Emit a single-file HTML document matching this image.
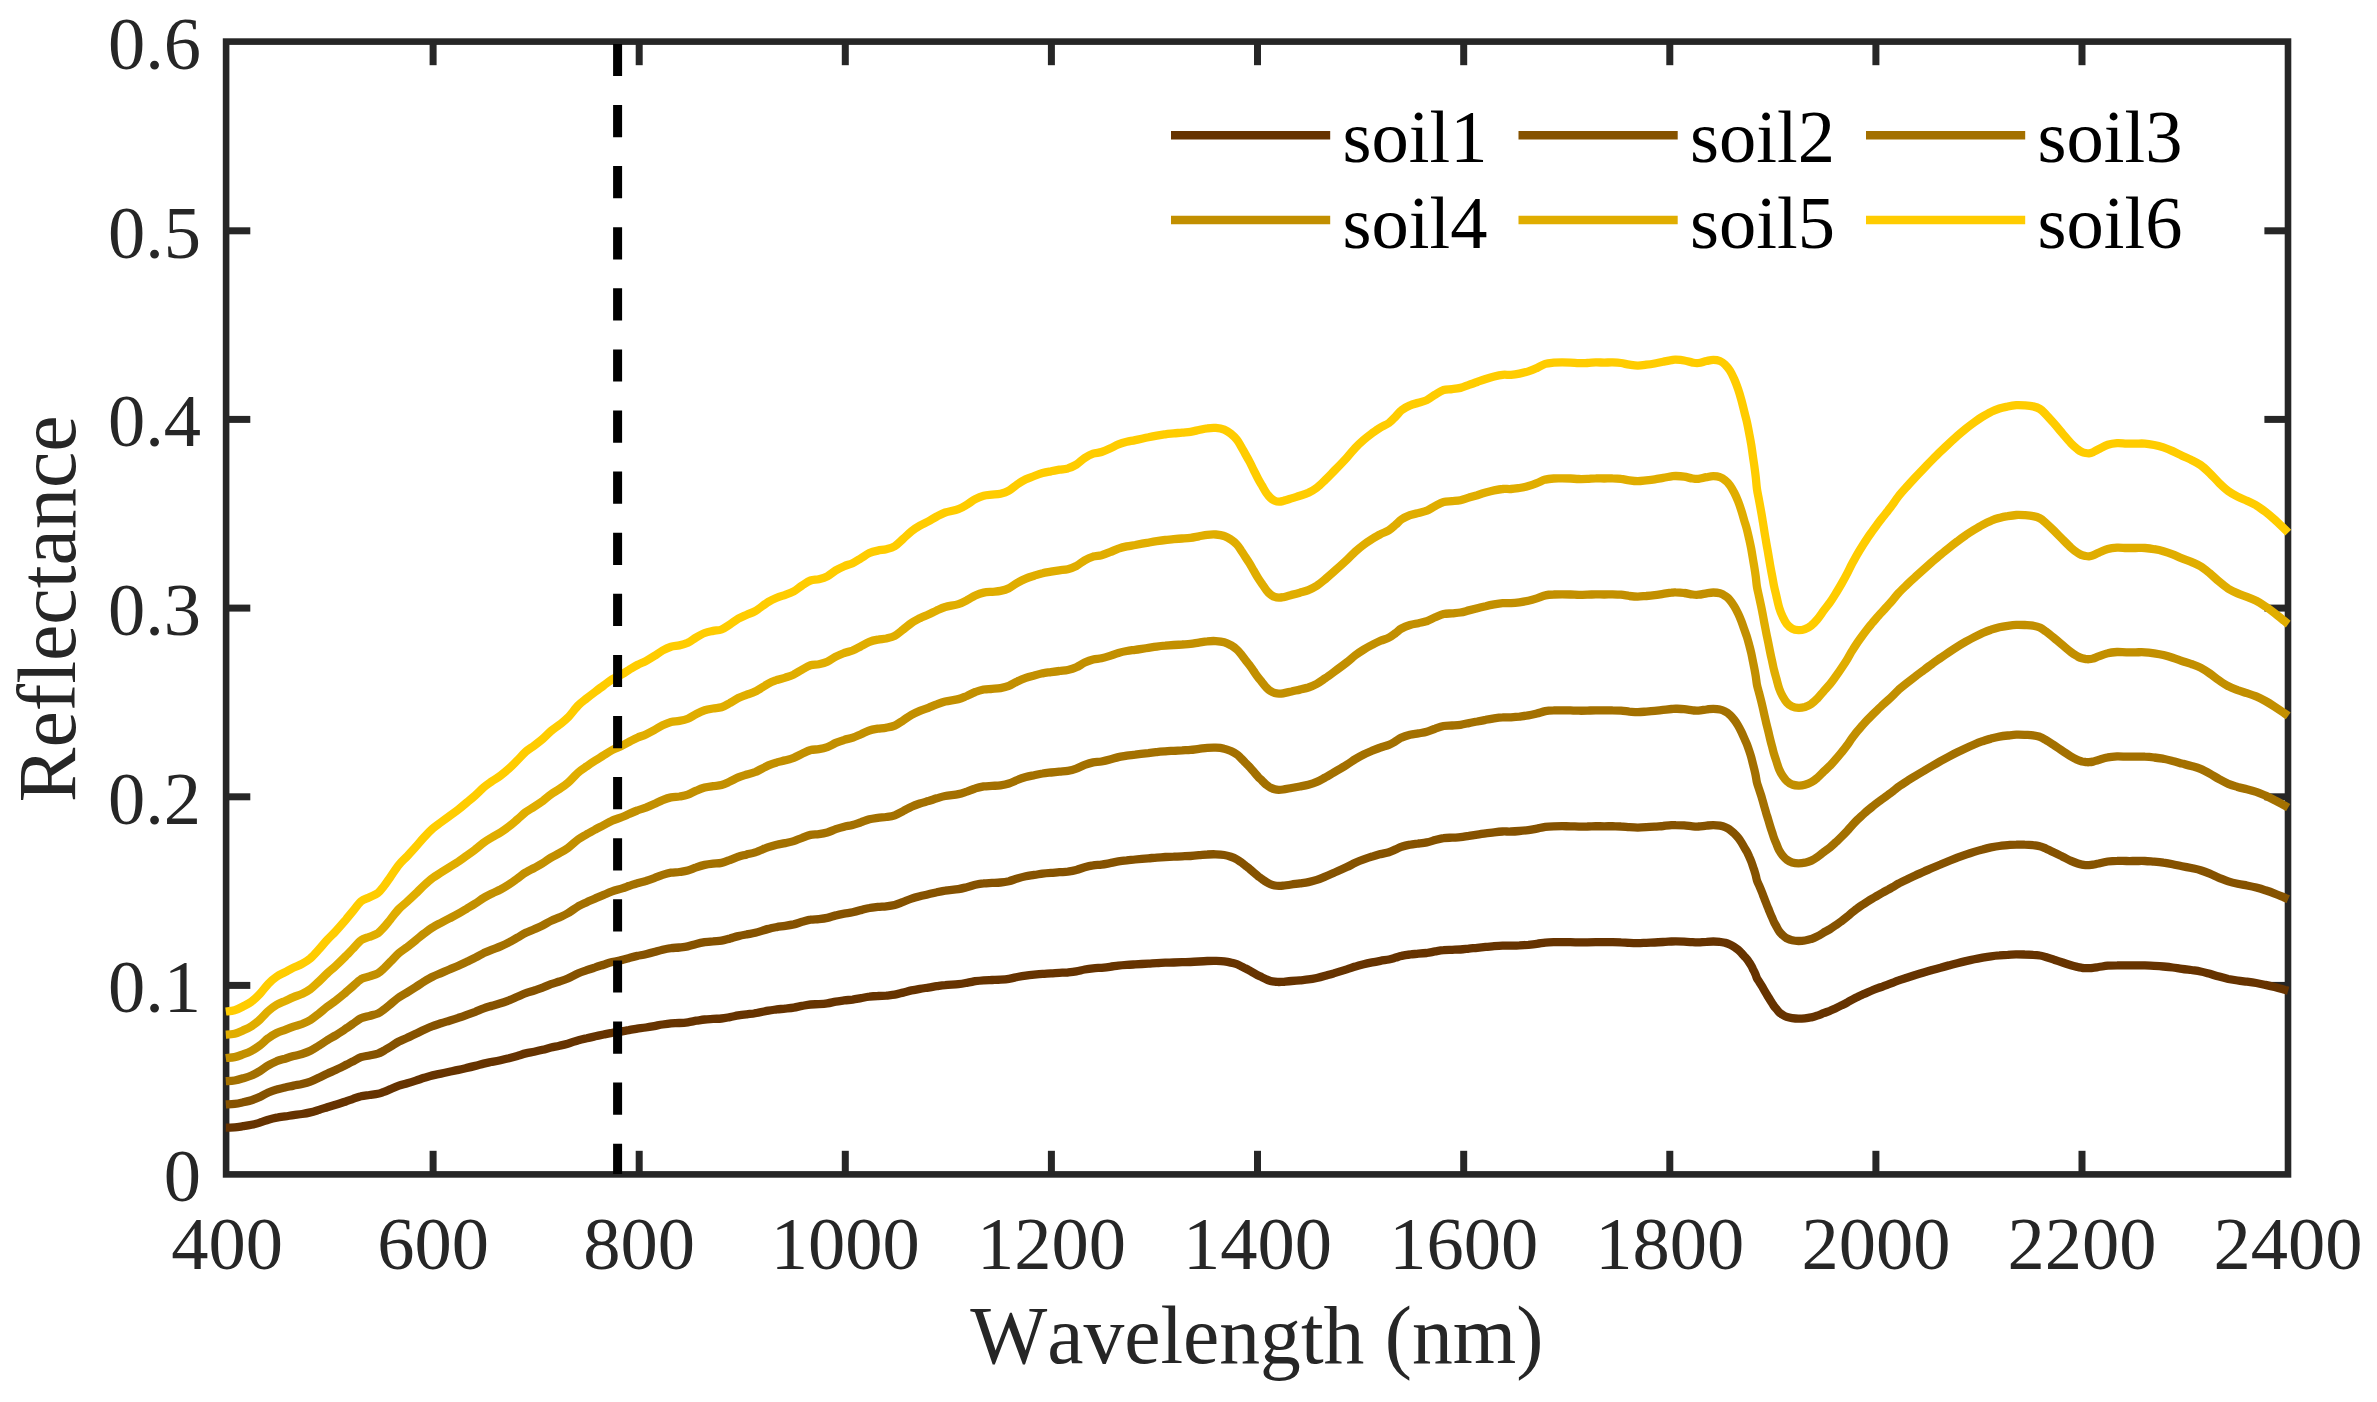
<!DOCTYPE html>
<html lang="en"><head><meta charset="utf-8"><title>Soil reflectance</title>
<style>html,body{margin:0;padding:0;background:#fff}svg{display:block}text{font-family:"Liberation Serif",serif;font-kerning:none}.tk{font-size:74.5px;fill:#262626}.lb{font-size:81.6px;fill:#262626}.lg{font-size:74.5px;fill:#000}</style></head><body>
<svg width="2377" height="1402" viewBox="0 0 2377 1402">
<rect x="0" y="0" width="2377" height="1402" fill="#fff"/>
<g stroke="#262626" stroke-width="6.6" fill="none" stroke-linecap="butt">
<rect x="226.1" y="41.6" width="2061.9" height="1132.8"/>
<g stroke-width="7">
<line x1="433.1" y1="1174.4" x2="433.1" y2="1150.8"/>
<line x1="433.1" y1="41.6" x2="433.1" y2="65.2"/>
<line x1="639.2" y1="1174.4" x2="639.2" y2="1150.8"/>
<line x1="639.2" y1="41.6" x2="639.2" y2="65.2"/>
<line x1="845.3" y1="1174.4" x2="845.3" y2="1150.8"/>
<line x1="845.3" y1="41.6" x2="845.3" y2="65.2"/>
<line x1="1051.4" y1="1174.4" x2="1051.4" y2="1150.8"/>
<line x1="1051.4" y1="41.6" x2="1051.4" y2="65.2"/>
<line x1="1257.5" y1="1174.4" x2="1257.5" y2="1150.8"/>
<line x1="1257.5" y1="41.6" x2="1257.5" y2="65.2"/>
<line x1="1463.7" y1="1174.4" x2="1463.7" y2="1150.8"/>
<line x1="1463.7" y1="41.6" x2="1463.7" y2="65.2"/>
<line x1="1669.8" y1="1174.4" x2="1669.8" y2="1150.8"/>
<line x1="1669.8" y1="41.6" x2="1669.8" y2="65.2"/>
<line x1="1875.9" y1="1174.4" x2="1875.9" y2="1150.8"/>
<line x1="1875.9" y1="41.6" x2="1875.9" y2="65.2"/>
<line x1="2082.0" y1="1174.4" x2="2082.0" y2="1150.8"/>
<line x1="2082.0" y1="41.6" x2="2082.0" y2="65.2"/>
<line x1="226.1" y1="985.4" x2="250.3" y2="985.4"/>
<line x1="2288" y1="985.4" x2="2264.4" y2="985.4"/>
<line x1="226.1" y1="796.8" x2="250.3" y2="796.8"/>
<line x1="2288" y1="796.8" x2="2264.4" y2="796.8"/>
<line x1="226.1" y1="608.1" x2="250.3" y2="608.1"/>
<line x1="2288" y1="608.1" x2="2264.4" y2="608.1"/>
<line x1="226.1" y1="419.4" x2="250.3" y2="419.4"/>
<line x1="2288" y1="419.4" x2="2264.4" y2="419.4"/>
<line x1="226.1" y1="230.8" x2="250.3" y2="230.8"/>
<line x1="2288" y1="230.8" x2="2264.4" y2="230.8"/>
</g></g>
<g fill="none" stroke-width="8.3" stroke-linejoin="round" stroke-linecap="butt">
<path stroke="#663300" d="M225.8 1127.6C227.3 1127.6 231.7 1127.5 234.6 1127.3C237.5 1127.1 240.2 1126.6 243.0 1126.2C245.8 1125.8 248.7 1125.4 251.5 1124.8C254.3 1124.2 257.1 1123.5 259.9 1122.6C262.7 1121.8 265.5 1120.6 268.3 1119.7C271.1 1118.9 273.9 1118.2 276.7 1117.7C279.5 1117.1 282.3 1116.8 285.1 1116.4C287.9 1116.0 290.7 1115.5 293.5 1115.1C296.3 1114.7 299.2 1114.5 302.0 1114.0C304.8 1113.6 307.6 1113.1 310.4 1112.4C313.2 1111.8 316.0 1110.8 318.8 1109.9C321.6 1109.1 324.4 1108.1 327.2 1107.2C330.0 1106.3 332.8 1105.6 335.6 1104.7C338.4 1103.9 342.2 1102.6 344.1 1102.0C346.0 1101.4 345.8 1101.4 347.2 1100.9C348.6 1100.4 350.3 1099.9 352.6 1099.1C354.9 1098.3 358.2 1096.8 361.0 1096.2C363.8 1095.5 366.7 1095.4 369.5 1095.0C372.3 1094.6 375.5 1094.3 377.9 1093.8C380.3 1093.3 381.7 1092.6 383.8 1091.9C385.9 1091.1 388.0 1090.2 390.5 1089.2C393.0 1088.1 396.1 1086.7 398.9 1085.7C401.7 1084.7 404.5 1084.1 407.3 1083.2C410.1 1082.4 413.0 1081.5 415.8 1080.6C418.6 1079.7 421.4 1078.7 424.2 1077.8C427.0 1077.0 429.8 1076.1 432.6 1075.4C435.4 1074.7 438.2 1074.2 441.0 1073.6C443.8 1073.0 446.5 1072.4 449.4 1071.8C452.3 1071.2 455.5 1070.6 458.4 1069.9C461.3 1069.3 464.0 1068.6 466.8 1067.9C469.6 1067.3 472.5 1066.6 475.3 1065.9C478.1 1065.2 480.9 1064.3 483.7 1063.6C486.5 1062.9 489.3 1062.4 492.1 1061.8C494.9 1061.3 497.7 1060.8 500.5 1060.2C503.3 1059.6 506.1 1059.0 508.9 1058.3C511.7 1057.5 514.5 1056.7 517.3 1055.9C520.1 1055.1 523.0 1054.1 525.8 1053.4C528.6 1052.7 531.4 1052.3 534.2 1051.7C537.0 1051.1 539.8 1050.5 542.6 1049.8C545.4 1049.1 548.2 1048.2 551.0 1047.5C553.8 1046.8 556.6 1046.4 559.4 1045.7C562.2 1045.1 564.6 1044.6 567.8 1043.7C571.0 1042.8 575.2 1041.1 578.4 1040.2C581.6 1039.2 584.0 1038.8 586.8 1038.2C589.6 1037.5 592.5 1036.9 595.3 1036.3C598.1 1035.7 600.9 1035.1 603.7 1034.5C606.5 1033.9 609.0 1033.3 612.1 1032.8C615.2 1032.2 619.4 1031.7 622.2 1031.3C625.0 1030.8 626.4 1030.5 628.9 1030.1C631.4 1029.6 634.5 1029.1 637.3 1028.6C640.1 1028.2 643.0 1028.0 645.8 1027.5C648.6 1027.1 651.4 1026.6 654.2 1026.1C657.0 1025.6 659.8 1024.9 662.6 1024.5C665.4 1024.1 668.2 1023.7 671.0 1023.4C673.8 1023.2 676.6 1023.2 679.4 1023.0C682.2 1022.9 685.0 1022.7 687.8 1022.3C690.6 1021.9 693.5 1021.2 696.3 1020.7C699.1 1020.3 701.9 1019.8 704.7 1019.5C707.5 1019.2 710.3 1019.1 713.1 1018.9C715.9 1018.7 718.7 1018.8 721.5 1018.5C724.3 1018.2 727.1 1017.6 729.9 1017.1C732.7 1016.6 735.5 1015.9 738.3 1015.4C741.1 1014.9 744.0 1014.6 746.8 1014.3C749.6 1013.9 751.6 1013.9 755.2 1013.2C758.8 1012.6 764.8 1011.3 768.4 1010.6C772.0 1010.0 774.0 1009.8 776.8 1009.4C779.6 1009.1 782.5 1008.9 785.3 1008.6C788.1 1008.3 790.9 1008.1 793.7 1007.6C796.5 1007.2 799.3 1006.4 802.1 1005.9C804.9 1005.4 807.7 1004.8 810.5 1004.5C813.3 1004.2 816.1 1004.3 818.9 1004.1C821.7 1003.9 824.5 1003.7 827.3 1003.3C830.1 1002.9 833.0 1002.1 835.8 1001.6C838.6 1001.1 841.4 1000.8 844.2 1000.4C847.0 1000.1 849.8 999.9 852.6 999.6C855.4 999.2 858.2 998.6 861.0 998.1C863.8 997.6 866.6 997.0 869.4 996.7C872.2 996.3 875.0 996.1 877.8 996.0C880.6 995.8 883.5 995.8 886.3 995.6C889.1 995.3 891.9 995.2 894.7 994.7C897.5 994.2 900.3 993.3 903.1 992.6C905.9 991.9 908.7 991.0 911.5 990.4C914.3 989.8 917.1 989.3 919.9 988.8C922.7 988.3 925.6 988.0 928.4 987.6C931.2 987.2 934.0 986.6 936.8 986.2C939.6 985.8 941.6 985.4 945.2 985.1C948.8 984.7 954.8 984.5 958.4 984.1C962.0 983.7 964.0 983.3 966.8 982.8C969.6 982.4 972.5 981.7 975.3 981.2C978.1 980.8 980.9 980.5 983.7 980.3C986.5 980.1 989.3 980.1 992.1 980.0C994.9 979.9 997.7 979.9 1000.5 979.7C1003.3 979.5 1006.1 979.3 1008.9 978.8C1011.7 978.4 1014.5 977.6 1017.3 977.0C1020.1 976.5 1023.0 976.0 1025.8 975.6C1028.6 975.2 1031.4 974.9 1034.2 974.6C1037.0 974.3 1039.8 974.0 1042.6 973.8C1045.4 973.6 1048.2 973.5 1051.0 973.3C1053.8 973.1 1056.6 973.0 1059.4 972.8C1062.2 972.7 1065.0 972.7 1067.8 972.5C1070.6 972.2 1073.5 971.9 1076.3 971.4C1079.1 970.9 1081.9 970.0 1084.7 969.5C1087.5 969.0 1090.3 968.6 1093.1 968.3C1095.9 968.0 1098.7 968.0 1101.5 967.8C1104.3 967.5 1107.1 967.2 1109.9 966.8C1112.7 966.5 1115.6 965.9 1118.4 965.6C1121.2 965.3 1124.0 965.1 1126.8 964.9C1129.6 964.7 1131.6 964.6 1135.2 964.4C1138.8 964.2 1144.8 963.8 1148.4 963.6C1152.0 963.4 1154.0 963.2 1156.8 963.1C1159.6 963.0 1162.5 962.8 1165.3 962.7C1168.1 962.6 1170.9 962.6 1173.7 962.5C1176.5 962.4 1179.3 962.3 1182.1 962.2C1184.9 962.2 1187.7 962.1 1190.5 962.0C1193.3 961.9 1196.1 961.7 1198.9 961.5C1201.7 961.3 1204.5 961.1 1207.3 961.0C1210.1 960.9 1213.0 960.8 1215.8 960.9C1218.6 961.0 1221.7 961.1 1224.2 961.4C1226.7 961.7 1228.8 962.1 1230.9 962.6C1233.0 963.0 1235.1 963.6 1236.8 964.2C1238.5 964.8 1239.6 965.5 1241.0 966.2C1242.4 966.8 1243.8 967.6 1245.2 968.3C1246.6 969.0 1248.0 969.7 1249.4 970.5C1250.8 971.2 1252.2 972.1 1253.6 972.9C1255.0 973.7 1256.4 974.5 1257.8 975.3C1259.2 976.0 1260.7 976.7 1262.1 977.4C1263.5 978.1 1264.9 978.9 1266.3 979.4C1267.7 980.0 1269.1 980.5 1270.5 980.9C1271.9 981.3 1273.3 981.5 1274.7 981.7C1276.1 981.9 1277.5 981.9 1278.9 982.0C1280.3 982.0 1281.0 981.9 1283.1 981.8C1285.2 981.6 1288.7 981.3 1291.5 981.0C1294.3 980.8 1297.1 980.6 1299.9 980.3C1302.7 980.0 1305.6 979.8 1308.4 979.4C1311.2 979.1 1314.0 978.6 1316.8 978.0C1319.6 977.4 1322.4 976.6 1325.2 975.8C1328.0 975.0 1330.0 974.4 1333.6 973.4C1337.2 972.3 1343.2 970.5 1346.8 969.4C1350.4 968.3 1352.5 967.4 1355.3 966.6C1358.1 965.7 1360.9 965.0 1363.7 964.3C1366.5 963.6 1369.3 963.0 1372.1 962.4C1374.9 961.8 1377.7 961.3 1380.5 960.8C1383.3 960.3 1386.4 960.0 1388.9 959.5C1391.4 959.0 1393.6 958.2 1395.7 957.6C1397.8 957.0 1399.1 956.4 1401.5 955.9C1403.9 955.3 1407.2 954.8 1410.0 954.5C1412.8 954.1 1415.6 954.0 1418.4 953.7C1421.2 953.5 1424.0 953.3 1426.8 953.0C1429.6 952.6 1432.4 951.9 1435.2 951.4C1438.0 950.9 1440.8 950.3 1443.6 950.1C1446.4 949.8 1449.3 949.9 1452.1 949.8C1454.9 949.7 1457.7 949.7 1460.5 949.5C1463.3 949.3 1466.1 948.9 1468.9 948.6C1471.7 948.3 1474.5 948.1 1477.3 947.8C1480.1 947.5 1482.9 947.2 1485.7 946.9C1488.5 946.7 1491.3 946.4 1494.1 946.2C1496.9 946.0 1499.8 945.8 1502.6 945.7C1505.4 945.6 1508.2 945.8 1511.0 945.7C1513.8 945.7 1516.5 945.5 1519.4 945.4C1522.3 945.2 1525.5 945.0 1528.4 944.8C1531.3 944.5 1534.0 944.2 1536.8 943.8C1539.6 943.5 1542.5 942.9 1545.3 942.6C1548.1 942.4 1550.9 942.3 1553.7 942.2C1556.5 942.2 1559.3 942.2 1562.1 942.2C1564.9 942.2 1567.7 942.2 1570.5 942.2C1573.3 942.3 1576.1 942.4 1578.9 942.4C1581.7 942.4 1584.5 942.4 1587.3 942.4C1590.1 942.3 1593.0 942.2 1595.8 942.2C1598.6 942.2 1601.4 942.2 1604.2 942.2C1607.0 942.2 1609.8 942.2 1612.6 942.2C1615.4 942.2 1618.2 942.2 1621.0 942.4C1623.8 942.5 1626.6 942.7 1629.4 942.8C1632.2 943.0 1635.0 943.1 1637.8 943.1C1640.6 943.1 1643.5 942.9 1646.3 942.8C1649.1 942.7 1651.9 942.6 1654.7 942.5C1657.5 942.4 1660.3 942.2 1663.1 942.0C1665.9 941.9 1669.4 941.6 1671.5 941.5C1673.6 941.4 1673.6 941.4 1675.7 941.4C1677.8 941.4 1681.3 941.5 1684.1 941.6C1686.9 941.8 1690.2 942.1 1692.6 942.2C1695.0 942.4 1696.2 942.4 1698.5 942.4C1700.8 942.3 1704.1 941.9 1706.6 941.8C1709.1 941.6 1711.1 941.5 1713.3 941.5C1715.5 941.5 1717.9 941.5 1719.9 941.8C1721.9 942.0 1723.8 942.5 1725.4 942.9C1727.1 943.3 1728.3 943.8 1729.8 944.5C1731.3 945.2 1732.9 946.1 1734.3 947.0C1735.7 947.9 1736.9 948.8 1738.1 949.8C1739.3 950.8 1740.4 951.9 1741.4 953.0C1742.4 954.0 1743.3 955.1 1744.2 956.2C1745.1 957.2 1746.2 958.2 1747.0 959.3C1747.8 960.4 1748.5 961.4 1749.2 962.5C1749.9 963.5 1750.6 964.6 1751.2 965.6C1751.8 966.7 1752.3 967.7 1752.8 968.8C1753.3 969.8 1753.9 970.9 1754.4 971.9C1754.9 973.0 1755.4 974.0 1755.8 975.1C1756.2 976.2 1756.4 977.2 1756.9 978.2C1757.4 979.3 1758.3 980.4 1759.0 981.5C1759.7 982.6 1760.4 983.7 1761.1 984.8C1761.8 985.8 1762.3 986.8 1762.9 987.8C1763.5 988.8 1764.0 989.9 1764.6 990.9C1765.2 991.9 1765.8 992.9 1766.4 993.9C1767.0 994.9 1767.7 996.0 1768.3 997.0C1768.9 998.0 1769.5 999.0 1770.1 1000.0C1770.7 1001.1 1771.4 1002.1 1772.1 1003.1C1772.8 1004.1 1773.3 1005.1 1774.1 1006.2C1774.8 1007.2 1775.8 1008.2 1776.6 1009.2C1777.4 1010.2 1778.2 1011.4 1779.2 1012.3C1780.2 1013.2 1781.2 1014.0 1782.5 1014.7C1783.8 1015.5 1785.1 1016.3 1786.7 1016.9C1788.3 1017.5 1790.1 1017.9 1792.1 1018.2C1794.1 1018.5 1796.4 1018.7 1798.5 1018.7C1800.6 1018.7 1802.8 1018.6 1804.9 1018.4C1807.1 1018.2 1809.4 1017.8 1811.4 1017.3C1813.5 1016.9 1815.2 1016.3 1817.2 1015.6C1819.2 1015.0 1821.4 1014.0 1823.5 1013.2C1825.6 1012.4 1827.9 1011.6 1830.0 1010.8C1832.1 1009.9 1834.2 1008.9 1836.2 1008.0C1838.2 1007.1 1840.0 1006.2 1841.9 1005.2C1843.8 1004.3 1845.8 1003.3 1847.5 1002.3C1849.2 1001.4 1850.6 1000.5 1852.3 999.6C1854.0 998.7 1855.7 997.8 1857.4 997.0C1859.1 996.1 1860.8 995.3 1862.5 994.6C1864.2 993.8 1865.9 993.0 1867.6 992.3C1869.3 991.6 1871.0 990.9 1872.7 990.2C1874.4 989.6 1876.2 988.9 1877.9 988.2C1879.6 987.6 1881.4 986.9 1883.1 986.3C1884.8 985.7 1886.6 985.0 1888.3 984.4C1890.0 983.8 1891.4 983.3 1893.1 982.6C1894.8 981.9 1896.4 981.2 1898.7 980.4C1901.0 979.5 1904.1 978.6 1906.9 977.7C1909.7 976.8 1912.5 975.9 1915.3 975.0C1918.1 974.2 1920.9 973.4 1923.7 972.5C1926.5 971.7 1929.3 970.9 1932.1 970.0C1934.9 969.2 1937.7 968.4 1940.5 967.7C1943.3 966.9 1946.1 966.1 1948.9 965.4C1951.7 964.6 1954.5 963.9 1957.3 963.2C1960.1 962.5 1963.0 961.8 1965.8 961.1C1968.6 960.5 1971.4 959.9 1974.2 959.3C1977.0 958.7 1979.8 958.2 1982.6 957.7C1985.4 957.2 1988.2 956.7 1991.0 956.3C1993.8 955.9 1996.6 955.6 1999.4 955.4C2002.2 955.1 2005.0 954.9 2007.8 954.8C2010.6 954.6 2013.5 954.5 2016.3 954.4C2019.1 954.4 2021.9 954.4 2024.7 954.5C2027.5 954.5 2030.6 954.6 2033.1 954.8C2035.6 954.9 2037.7 955.1 2039.8 955.5C2041.9 955.8 2043.3 956.3 2045.7 957.0C2048.1 957.7 2051.3 958.7 2054.1 959.7C2056.9 960.6 2059.8 961.6 2062.6 962.5C2065.4 963.5 2068.5 964.5 2071.0 965.3C2073.5 966.1 2075.9 966.6 2077.7 967.0C2079.5 967.5 2080.7 967.6 2082.0 967.8C2083.3 968.0 2084.3 968.0 2085.5 968.1C2086.7 968.1 2087.8 968.2 2089.0 968.2C2090.2 968.1 2091.4 968.0 2093.0 967.8C2094.6 967.7 2096.0 967.4 2098.5 967.0C2101.0 966.7 2104.7 966.0 2107.8 965.7C2110.9 965.4 2114.0 965.3 2117.1 965.3C2120.2 965.2 2123.3 965.4 2126.4 965.4C2129.5 965.4 2132.5 965.4 2135.6 965.4C2138.7 965.4 2141.8 965.3 2144.9 965.4C2148.0 965.5 2151.1 965.6 2154.2 965.8C2157.3 966.0 2160.3 966.2 2163.4 966.5C2166.5 966.8 2169.6 967.1 2172.7 967.5C2175.8 967.9 2178.9 968.4 2182.0 968.8C2185.1 969.3 2188.2 969.6 2191.3 970.0C2194.4 970.5 2197.4 970.9 2200.5 971.5C2203.6 972.1 2206.7 973.0 2209.8 973.8C2212.9 974.7 2216.0 975.8 2219.1 976.6C2222.2 977.5 2225.2 978.3 2228.3 979.0C2231.4 979.6 2234.5 980.1 2237.6 980.5C2240.7 981.0 2243.8 981.3 2246.9 981.7C2250.0 982.1 2253.1 982.5 2256.2 983.0C2259.3 983.5 2262.3 984.2 2265.4 984.9C2268.5 985.6 2271.6 986.3 2274.7 987.1C2277.8 987.9 2281.8 989.0 2284.0 989.6C2286.2 990.3 2287.5 990.6 2288.2 990.8"/>
<path stroke="#855200" d="M225.8 1104.4C227.3 1104.3 231.7 1104.3 234.6 1103.9C237.5 1103.5 240.2 1102.9 243.0 1102.3C245.8 1101.6 248.7 1101.1 251.5 1100.2C254.3 1099.3 257.1 1098.1 259.9 1096.9C262.7 1095.6 265.5 1093.8 268.3 1092.5C271.1 1091.3 273.9 1090.3 276.7 1089.5C279.5 1088.6 282.3 1088.2 285.1 1087.5C287.9 1086.9 290.7 1086.2 293.5 1085.6C296.3 1085.0 299.2 1084.7 302.0 1084.0C304.8 1083.3 307.6 1082.6 310.4 1081.6C313.2 1080.6 316.0 1079.2 318.8 1077.8C321.6 1076.5 324.4 1075.0 327.2 1073.7C330.0 1072.4 332.8 1071.3 335.6 1070.0C338.4 1068.7 342.2 1066.9 344.1 1065.9C346.0 1065.0 345.8 1065.1 347.2 1064.3C348.6 1063.6 350.3 1062.7 352.6 1061.6C354.9 1060.4 358.2 1058.2 361.0 1057.2C363.8 1056.2 366.7 1056.1 369.5 1055.5C372.3 1054.9 375.5 1054.4 377.9 1053.6C380.3 1052.8 381.7 1051.9 383.8 1050.8C385.9 1049.6 388.0 1048.2 390.5 1046.7C393.0 1045.2 396.1 1043.0 398.9 1041.5C401.7 1040.1 404.5 1039.1 407.3 1037.8C410.1 1036.5 413.0 1035.2 415.8 1033.8C418.6 1032.5 421.4 1031.0 424.2 1029.7C427.0 1028.4 429.8 1027.1 432.6 1026.1C435.4 1025.0 438.2 1024.2 441.0 1023.3C443.8 1022.4 446.5 1021.6 449.4 1020.7C452.3 1019.8 455.5 1018.8 458.4 1017.8C461.3 1016.9 464.0 1015.9 466.8 1014.8C469.6 1013.8 472.5 1012.8 475.3 1011.8C478.1 1010.7 480.9 1009.4 483.7 1008.4C486.5 1007.4 489.3 1006.6 492.1 1005.7C494.9 1004.9 497.7 1004.2 500.5 1003.3C503.3 1002.4 506.1 1001.4 508.9 1000.4C511.7 999.3 514.5 998.0 517.3 996.8C520.1 995.6 523.0 994.1 525.8 993.1C528.6 992.0 531.4 991.4 534.2 990.5C537.0 989.5 539.8 988.7 542.6 987.6C545.4 986.6 548.2 985.2 551.0 984.2C553.8 983.2 556.6 982.5 559.4 981.5C562.2 980.6 564.6 979.9 567.8 978.5C571.0 977.1 575.2 974.6 578.4 973.2C581.6 971.8 584.0 971.2 586.8 970.2C589.6 969.2 592.5 968.3 595.3 967.4C598.1 966.4 600.9 965.6 603.7 964.7C606.5 963.8 609.0 962.9 612.1 962.1C615.2 961.3 619.4 960.5 622.2 959.9C625.0 959.2 626.4 958.7 628.9 958.1C631.4 957.4 634.5 956.5 637.3 955.9C640.1 955.3 643.0 954.9 645.8 954.2C648.6 953.6 651.4 952.9 654.2 952.1C657.0 951.3 659.8 950.4 662.6 949.7C665.4 949.0 668.2 948.4 671.0 948.1C673.8 947.7 676.6 947.8 679.4 947.5C682.2 947.2 685.0 947.0 687.8 946.4C690.6 945.8 693.5 944.7 696.3 944.0C699.1 943.3 701.9 942.7 704.7 942.2C707.5 941.7 710.3 941.5 713.1 941.3C715.9 941.0 718.7 941.2 721.5 940.7C724.3 940.2 727.1 939.3 729.9 938.6C732.7 937.8 735.5 936.8 738.3 936.1C741.1 935.4 744.0 934.9 746.8 934.4C749.6 933.8 751.6 933.7 755.2 932.8C758.8 931.9 764.8 929.8 768.4 928.9C772.0 927.9 774.0 927.6 776.8 927.1C779.6 926.6 782.5 926.3 785.3 925.8C788.1 925.4 790.9 925.0 793.7 924.4C796.5 923.7 799.3 922.6 802.1 921.8C804.9 921.1 807.7 920.1 810.5 919.7C813.3 919.2 816.1 919.4 818.9 919.1C821.7 918.8 824.5 918.5 827.3 917.9C830.1 917.3 833.0 916.1 835.8 915.4C838.6 914.6 841.4 914.1 844.2 913.6C847.0 913.1 849.8 912.9 852.6 912.3C855.4 911.7 858.2 910.9 861.0 910.1C863.8 909.4 866.6 908.5 869.4 908.0C872.2 907.4 875.0 907.2 877.8 906.9C880.6 906.6 883.5 906.6 886.3 906.3C889.1 906.0 891.9 905.7 894.7 905.0C897.5 904.3 900.3 902.9 903.1 901.9C905.9 900.8 908.7 899.5 911.5 898.6C914.3 897.6 917.1 896.9 919.9 896.2C922.7 895.5 925.6 895.0 928.4 894.3C931.2 893.7 934.0 892.9 936.8 892.3C939.6 891.6 941.6 891.1 945.2 890.6C948.8 890.0 954.8 889.7 958.4 889.1C962.0 888.5 964.0 887.9 966.8 887.2C969.6 886.5 972.5 885.5 975.3 884.8C978.1 884.2 980.9 883.7 983.7 883.4C986.5 883.0 989.3 883.1 992.1 882.9C994.9 882.8 997.7 882.8 1000.5 882.5C1003.3 882.2 1006.1 881.8 1008.9 881.2C1011.7 880.5 1014.5 879.3 1017.3 878.5C1020.1 877.7 1023.0 876.9 1025.8 876.3C1028.6 875.7 1031.4 875.4 1034.2 874.9C1037.0 874.5 1039.8 874.0 1042.6 873.6C1045.4 873.3 1048.2 873.1 1051.0 872.9C1053.8 872.7 1056.6 872.4 1059.4 872.2C1062.2 872.0 1065.0 872.0 1067.8 871.7C1070.6 871.3 1073.5 870.8 1076.3 870.0C1079.1 869.3 1081.9 868.0 1084.7 867.2C1087.5 866.4 1090.3 865.8 1093.1 865.4C1095.9 864.9 1098.7 865.0 1101.5 864.6C1104.3 864.3 1107.1 863.7 1109.9 863.2C1112.7 862.6 1115.6 861.9 1118.4 861.4C1121.2 860.9 1124.0 860.6 1126.8 860.3C1129.6 859.9 1131.6 859.9 1135.2 859.5C1138.8 859.2 1144.8 858.6 1148.4 858.3C1152.0 858.0 1154.0 857.8 1156.8 857.6C1159.6 857.4 1162.5 857.2 1165.3 857.0C1168.1 856.9 1170.9 856.8 1173.7 856.7C1176.5 856.5 1179.3 856.4 1182.1 856.3C1184.9 856.2 1187.7 856.2 1190.5 856.0C1193.3 855.8 1196.1 855.5 1198.9 855.2C1201.7 855.0 1204.5 854.6 1207.3 854.5C1210.1 854.3 1213.0 854.2 1215.8 854.3C1218.6 854.4 1221.7 854.6 1224.2 855.0C1226.7 855.4 1228.8 856.1 1230.9 856.8C1233.0 857.5 1235.1 858.4 1236.8 859.3C1238.5 860.2 1239.6 861.2 1241.0 862.2C1242.4 863.2 1243.8 864.4 1245.2 865.4C1246.6 866.5 1248.0 867.5 1249.4 868.7C1250.8 869.8 1252.2 871.1 1253.6 872.3C1255.0 873.5 1256.4 874.7 1257.8 875.9C1259.2 877.0 1260.7 878.0 1262.1 879.1C1263.5 880.1 1264.9 881.2 1266.3 882.1C1267.7 883.0 1269.1 883.7 1270.5 884.3C1271.9 884.9 1273.3 885.2 1274.7 885.5C1276.1 885.8 1277.5 885.9 1278.9 885.9C1280.3 885.9 1281.0 885.9 1283.1 885.6C1285.2 885.4 1288.7 884.9 1291.5 884.5C1294.3 884.1 1297.1 883.8 1299.9 883.4C1302.7 883.0 1305.6 882.7 1308.4 882.1C1311.2 881.5 1314.0 880.8 1316.8 879.9C1319.6 879.0 1322.4 877.8 1325.2 876.6C1328.0 875.5 1330.0 874.6 1333.6 873.0C1337.2 871.4 1343.2 868.8 1346.8 867.1C1350.4 865.4 1352.5 864.1 1355.3 862.8C1358.1 861.5 1360.9 860.4 1363.7 859.4C1366.5 858.4 1369.3 857.4 1372.1 856.6C1374.9 855.7 1377.7 854.9 1380.5 854.1C1383.3 853.4 1386.4 853.0 1388.9 852.2C1391.4 851.4 1393.6 850.3 1395.7 849.4C1397.8 848.5 1399.1 847.5 1401.5 846.8C1403.9 846.0 1407.2 845.2 1410.0 844.7C1412.8 844.1 1415.6 843.9 1418.4 843.5C1421.2 843.2 1424.0 843.0 1426.8 842.4C1429.6 841.8 1432.4 840.8 1435.2 840.0C1438.0 839.3 1440.8 838.4 1443.6 838.1C1446.4 837.7 1449.3 837.8 1452.1 837.7C1454.9 837.5 1457.7 837.5 1460.5 837.2C1463.3 836.9 1466.1 836.3 1468.9 835.9C1471.7 835.4 1474.5 835.0 1477.3 834.6C1480.1 834.2 1482.9 833.7 1485.7 833.3C1488.5 833.0 1491.3 832.6 1494.1 832.3C1496.9 832.0 1499.8 831.7 1502.6 831.5C1505.4 831.4 1508.2 831.6 1511.0 831.5C1513.8 831.5 1516.5 831.3 1519.4 831.0C1522.3 830.8 1525.5 830.5 1528.4 830.1C1531.3 829.7 1534.0 829.2 1536.8 828.7C1539.6 828.1 1542.5 827.3 1545.3 826.9C1548.1 826.5 1550.9 826.4 1553.7 826.3C1556.5 826.2 1559.3 826.2 1562.1 826.2C1564.9 826.2 1567.7 826.3 1570.5 826.3C1573.3 826.4 1576.1 826.5 1578.9 826.6C1581.7 826.6 1584.5 826.5 1587.3 826.5C1590.1 826.4 1593.0 826.3 1595.8 826.2C1598.6 826.2 1601.4 826.3 1604.2 826.3C1607.0 826.3 1609.8 826.2 1612.6 826.2C1615.4 826.3 1618.2 826.3 1621.0 826.5C1623.8 826.6 1626.6 827.0 1629.4 827.2C1632.2 827.4 1635.0 827.6 1637.8 827.6C1640.6 827.6 1643.5 827.4 1646.3 827.2C1649.1 827.1 1651.9 826.9 1654.7 826.7C1657.5 826.5 1660.3 826.2 1663.1 826.0C1665.9 825.7 1669.4 825.4 1671.5 825.2C1673.6 825.1 1673.6 825.0 1675.7 825.1C1677.8 825.1 1681.3 825.2 1684.1 825.4C1686.9 825.6 1690.2 826.1 1692.6 826.3C1695.0 826.5 1696.2 826.6 1698.5 826.5C1700.8 826.4 1704.1 825.8 1706.6 825.6C1709.1 825.4 1711.1 825.2 1713.3 825.2C1715.5 825.2 1717.9 825.3 1719.9 825.6C1721.9 826.0 1723.8 826.6 1725.4 827.3C1727.1 828.0 1728.3 828.6 1729.8 829.7C1731.3 830.7 1732.9 832.1 1734.3 833.5C1735.7 834.8 1736.9 836.2 1738.1 837.7C1739.3 839.2 1740.4 840.8 1741.4 842.4C1742.4 844.0 1743.3 845.6 1744.2 847.2C1745.1 848.8 1746.2 850.3 1747.0 851.9C1747.8 853.5 1748.5 855.1 1749.2 856.7C1749.9 858.2 1750.6 859.8 1751.2 861.4C1751.8 862.9 1752.3 864.5 1752.8 866.1C1753.3 867.7 1753.9 869.3 1754.4 870.8C1754.9 872.4 1755.4 874.0 1755.8 875.6C1756.2 877.2 1756.4 878.7 1756.9 880.3C1757.4 881.9 1758.3 883.6 1759.0 885.2C1759.7 886.8 1760.4 888.5 1761.1 890.1C1761.8 891.7 1762.3 893.1 1762.9 894.7C1763.5 896.2 1764.0 897.7 1764.6 899.3C1765.2 900.8 1765.8 902.3 1766.4 903.8C1767.0 905.4 1767.7 906.9 1768.3 908.4C1768.9 910.0 1769.5 911.5 1770.1 913.0C1770.7 914.5 1771.4 916.1 1772.1 917.6C1772.8 919.1 1773.3 920.7 1774.1 922.2C1774.8 923.7 1775.8 925.2 1776.6 926.8C1777.4 928.3 1778.2 930.0 1779.2 931.4C1780.2 932.7 1781.2 933.9 1782.5 935.0C1783.8 936.2 1785.1 937.4 1786.7 938.3C1788.3 939.1 1790.1 939.9 1792.1 940.3C1794.1 940.8 1796.4 941.0 1798.5 941.0C1800.6 941.0 1802.8 940.9 1804.9 940.5C1807.1 940.2 1809.4 939.6 1811.4 938.9C1813.5 938.3 1815.2 937.5 1817.2 936.4C1819.2 935.4 1821.4 934.0 1823.5 932.7C1825.6 931.5 1827.9 930.4 1830.0 929.1C1832.1 927.8 1834.2 926.3 1836.2 924.9C1838.2 923.6 1840.0 922.2 1841.9 920.8C1843.8 919.4 1845.8 917.9 1847.5 916.4C1849.2 915.0 1850.6 913.7 1852.3 912.3C1854.0 911.0 1855.7 909.6 1857.4 908.4C1859.1 907.1 1860.8 905.9 1862.5 904.8C1864.2 903.6 1865.9 902.5 1867.6 901.4C1869.3 900.3 1871.0 899.3 1872.7 898.3C1874.4 897.3 1876.2 896.3 1877.9 895.3C1879.6 894.3 1881.4 893.3 1883.1 892.4C1884.8 891.4 1886.6 890.5 1888.3 889.6C1890.0 888.6 1891.4 887.9 1893.1 886.9C1894.8 885.9 1896.4 884.7 1898.7 883.5C1901.0 882.2 1904.1 880.8 1906.9 879.5C1909.7 878.1 1912.5 876.8 1915.3 875.5C1918.1 874.2 1920.9 873.0 1923.7 871.7C1926.5 870.5 1929.3 869.2 1932.1 868.0C1934.9 866.8 1937.7 865.6 1940.5 864.5C1943.3 863.3 1946.1 862.2 1948.9 861.0C1951.7 859.9 1954.5 858.8 1957.3 857.7C1960.1 856.7 1963.0 855.6 1965.8 854.6C1968.6 853.7 1971.4 852.8 1974.2 851.9C1977.0 851.0 1979.8 850.2 1982.6 849.5C1985.4 848.7 1988.2 848.0 1991.0 847.4C1993.8 846.9 1996.6 846.4 1999.4 846.0C2002.2 845.6 2005.0 845.4 2007.8 845.1C2010.6 844.9 2013.5 844.6 2016.3 844.6C2019.1 844.5 2021.9 844.6 2024.7 844.7C2027.5 844.7 2030.6 844.8 2033.1 845.1C2035.6 845.3 2037.7 845.6 2039.8 846.2C2041.9 846.7 2043.3 847.4 2045.7 848.4C2048.1 849.5 2051.3 851.1 2054.1 852.5C2056.9 853.8 2059.8 855.3 2062.6 856.7C2065.4 858.1 2068.5 859.8 2071.0 860.9C2073.5 862.0 2075.9 862.9 2077.7 863.5C2079.5 864.1 2080.7 864.4 2082.0 864.6C2083.3 864.9 2084.3 865.0 2085.5 865.1C2086.7 865.1 2087.8 865.2 2089.0 865.2C2090.2 865.1 2091.4 865.0 2093.0 864.7C2094.6 864.4 2096.0 864.0 2098.5 863.5C2101.0 862.9 2104.7 862.0 2107.8 861.5C2110.9 861.1 2114.0 860.9 2117.1 860.9C2120.2 860.8 2123.3 861.0 2126.4 861.0C2129.5 861.1 2132.5 861.0 2135.6 861.0C2138.7 861.0 2141.8 860.9 2144.9 861.0C2148.0 861.1 2151.1 861.4 2154.2 861.6C2157.3 861.9 2160.3 862.2 2163.4 862.7C2166.5 863.1 2169.6 863.6 2172.7 864.2C2175.8 864.8 2178.9 865.6 2182.0 866.2C2185.1 866.8 2188.2 867.4 2191.3 868.0C2194.4 868.7 2197.4 869.2 2200.5 870.2C2203.6 871.2 2206.7 872.4 2209.8 873.7C2212.9 875.0 2216.0 876.6 2219.1 877.9C2222.2 879.1 2225.2 880.4 2228.3 881.4C2231.4 882.4 2234.5 883.1 2237.6 883.7C2240.7 884.4 2243.8 884.9 2246.9 885.5C2250.0 886.1 2253.1 886.7 2256.2 887.5C2259.3 888.3 2262.3 889.2 2265.4 890.3C2268.5 891.3 2271.6 892.4 2274.7 893.6C2277.8 894.8 2281.8 896.5 2284.0 897.4C2286.2 898.3 2287.5 898.9 2288.2 899.2"/>
<path stroke="#A37000" d="M225.8 1081.2C227.3 1081.1 231.7 1081.0 234.6 1080.5C237.5 1080.0 240.2 1079.2 243.0 1078.3C245.8 1077.5 248.7 1076.7 251.5 1075.5C254.3 1074.3 257.1 1072.8 259.9 1071.1C262.7 1069.4 265.5 1067.0 268.3 1065.4C271.1 1063.7 273.9 1062.4 276.7 1061.2C279.5 1060.1 282.3 1059.5 285.1 1058.7C287.9 1057.8 290.7 1056.9 293.5 1056.1C296.3 1055.3 299.2 1054.9 302.0 1054.0C304.8 1053.1 307.6 1052.2 310.4 1050.8C313.2 1049.4 316.0 1047.5 318.8 1045.8C321.6 1044.0 324.4 1042.0 327.2 1040.3C330.0 1038.5 332.8 1037.1 335.6 1035.4C338.4 1033.6 342.2 1031.1 344.1 1029.9C346.0 1028.6 345.8 1028.7 347.2 1027.8C348.6 1026.8 350.3 1025.6 352.6 1024.0C354.9 1022.5 358.2 1019.6 361.0 1018.2C363.8 1016.9 366.7 1016.7 369.5 1015.9C372.3 1015.1 375.5 1014.5 377.9 1013.5C380.3 1012.4 381.7 1011.2 383.8 1009.6C385.9 1008.1 388.0 1006.3 390.5 1004.2C393.0 1002.2 396.1 999.3 398.9 997.4C401.7 995.4 404.5 994.1 407.3 992.4C410.1 990.7 413.0 988.9 415.8 987.1C418.6 985.3 421.4 983.3 424.2 981.5C427.0 979.8 429.8 978.1 432.6 976.7C435.4 975.3 438.2 974.3 441.0 973.1C443.8 971.9 446.5 970.7 449.4 969.5C452.3 968.3 455.5 967.1 458.4 965.8C461.3 964.5 464.0 963.1 466.8 961.8C469.6 960.4 472.5 959.1 475.3 957.6C478.1 956.2 480.9 954.5 483.7 953.1C486.5 951.8 489.3 950.7 492.1 949.6C494.9 948.5 497.7 947.6 500.5 946.4C503.3 945.2 506.1 943.9 508.9 942.4C511.7 941.0 514.5 939.3 517.3 937.7C520.1 936.1 523.0 934.1 525.8 932.7C528.6 931.3 531.4 930.5 534.2 929.2C537.0 928.0 539.8 926.9 542.6 925.5C545.4 924.1 548.2 922.3 551.0 920.9C553.8 919.5 556.6 918.6 559.4 917.4C562.2 916.1 564.6 915.2 567.8 913.3C571.0 911.4 575.2 908.1 578.4 906.2C581.6 904.4 584.0 903.5 586.8 902.2C589.6 900.9 592.5 899.7 595.3 898.4C598.1 897.2 600.9 896.1 603.7 894.9C606.5 893.7 609.0 892.5 612.1 891.4C615.2 890.3 619.4 889.3 622.2 888.4C625.0 887.5 626.4 886.9 628.9 886.0C631.4 885.2 634.5 884.0 637.3 883.2C640.1 882.3 643.0 881.8 645.8 881.0C648.6 880.1 651.4 879.1 654.2 878.1C657.0 877.1 659.8 875.8 662.6 874.9C665.4 874.0 668.2 873.2 671.0 872.7C673.8 872.2 676.6 872.4 679.4 872.0C682.2 871.6 685.0 871.3 687.8 870.5C690.6 869.7 693.5 868.3 696.3 867.4C699.1 866.4 701.9 865.5 704.7 864.9C707.5 864.3 710.3 864.0 713.1 863.7C715.9 863.4 718.7 863.5 721.5 862.9C724.3 862.3 727.1 861.1 729.9 860.0C732.7 859.0 735.5 857.7 738.3 856.7C741.1 855.8 744.0 855.2 746.8 854.4C749.6 853.7 751.6 853.6 755.2 852.4C758.8 851.2 764.8 848.4 768.4 847.1C772.0 845.9 774.0 845.4 776.8 844.7C779.6 844.1 782.5 843.7 785.3 843.1C788.1 842.5 790.9 842.0 793.7 841.1C796.5 840.2 799.3 838.8 802.1 837.8C804.9 836.7 807.7 835.5 810.5 834.9C813.3 834.3 816.1 834.6 818.9 834.2C821.7 833.8 824.5 833.3 827.3 832.5C830.1 831.7 833.0 830.1 835.8 829.1C838.6 828.2 841.4 827.4 844.2 826.7C847.0 826.0 849.8 825.8 852.6 825.0C855.4 824.3 858.2 823.1 861.0 822.2C863.8 821.2 866.6 820.0 869.4 819.2C872.2 818.5 875.0 818.2 877.8 817.8C880.6 817.4 883.5 817.4 886.3 817.0C889.1 816.6 891.9 816.3 894.7 815.3C897.5 814.3 900.3 812.6 903.1 811.1C905.9 809.7 908.7 808.0 911.5 806.7C914.3 805.5 917.1 804.5 919.9 803.5C922.7 802.6 925.6 801.9 928.4 801.1C931.2 800.2 934.0 799.2 936.8 798.3C939.6 797.5 941.6 796.7 945.2 796.0C948.8 795.3 954.8 794.8 958.4 794.1C962.0 793.4 964.0 792.5 966.8 791.6C969.6 790.6 972.5 789.2 975.3 788.4C978.1 787.5 980.9 786.9 983.7 786.4C986.5 786.0 989.3 786.1 992.1 785.9C994.9 785.7 997.7 785.7 1000.5 785.3C1003.3 784.9 1006.1 784.4 1008.9 783.5C1011.7 782.6 1014.5 781.1 1017.3 780.0C1020.1 778.9 1023.0 777.9 1025.8 777.1C1028.6 776.3 1031.4 775.8 1034.2 775.2C1037.0 774.6 1039.8 773.9 1042.6 773.5C1045.4 773.0 1048.2 772.8 1051.0 772.5C1053.8 772.2 1056.6 771.9 1059.4 771.6C1062.2 771.3 1065.0 771.3 1067.8 770.8C1070.6 770.4 1073.5 769.7 1076.3 768.7C1079.1 767.7 1081.9 765.9 1084.7 764.9C1087.5 763.9 1090.3 763.0 1093.1 762.4C1095.9 761.9 1098.7 762.0 1101.5 761.5C1104.3 761.0 1107.1 760.3 1109.9 759.5C1112.7 758.8 1115.6 757.8 1118.4 757.1C1121.2 756.5 1124.0 756.1 1126.8 755.6C1129.6 755.2 1131.6 755.1 1135.2 754.7C1138.8 754.2 1144.8 753.5 1148.4 753.1C1152.0 752.6 1154.0 752.4 1156.8 752.1C1159.6 751.8 1162.5 751.6 1165.3 751.4C1168.1 751.1 1170.9 751.0 1173.7 750.8C1176.5 750.7 1179.3 750.5 1182.1 750.4C1184.9 750.2 1187.7 750.2 1190.5 749.9C1193.3 749.7 1196.1 749.2 1198.9 748.9C1201.7 748.6 1204.5 748.1 1207.3 747.9C1210.1 747.7 1213.0 747.6 1215.8 747.7C1218.6 747.8 1221.7 748.1 1224.2 748.7C1226.7 749.2 1228.8 750.1 1230.9 751.0C1233.0 752.0 1235.1 753.2 1236.8 754.4C1238.5 755.6 1239.6 756.9 1241.0 758.2C1242.4 759.6 1243.8 761.1 1245.2 762.6C1246.6 764.0 1248.0 765.3 1249.4 766.8C1250.8 768.4 1252.2 770.0 1253.6 771.6C1255.0 773.2 1256.4 774.9 1257.8 776.4C1259.2 778.0 1260.7 779.3 1262.1 780.7C1263.5 782.1 1264.9 783.6 1266.3 784.8C1267.7 785.9 1269.1 786.9 1270.5 787.7C1271.9 788.5 1273.3 788.9 1274.7 789.3C1276.1 789.7 1277.5 789.8 1278.9 789.8C1280.3 789.8 1281.0 789.8 1283.1 789.5C1285.2 789.2 1288.7 788.5 1291.5 788.0C1294.3 787.5 1297.1 787.0 1299.9 786.5C1302.7 786.0 1305.6 785.6 1308.4 784.8C1311.2 784.0 1314.0 783.1 1316.8 781.9C1319.6 780.7 1322.4 779.0 1325.2 777.5C1328.0 775.9 1330.0 774.7 1333.6 772.6C1337.2 770.5 1343.2 767.0 1346.8 764.7C1350.4 762.5 1352.5 760.8 1355.3 759.1C1358.1 757.4 1360.9 755.9 1363.7 754.5C1366.5 753.1 1369.3 751.9 1372.1 750.7C1374.9 749.6 1377.7 748.4 1380.5 747.5C1383.3 746.5 1386.4 745.9 1388.9 744.9C1391.4 743.9 1393.6 742.4 1395.7 741.2C1397.8 740.0 1399.1 738.7 1401.5 737.6C1403.9 736.6 1407.2 735.6 1410.0 734.8C1412.8 734.1 1415.6 733.9 1418.4 733.4C1421.2 732.9 1424.0 732.6 1426.8 731.8C1429.6 731.0 1432.4 729.6 1435.2 728.7C1438.0 727.7 1440.8 726.6 1443.6 726.0C1446.4 725.5 1449.3 725.7 1452.1 725.5C1454.9 725.3 1457.7 725.2 1460.5 724.8C1463.3 724.4 1466.1 723.7 1468.9 723.1C1471.7 722.6 1474.5 722.0 1477.3 721.5C1480.1 720.9 1482.9 720.3 1485.7 719.8C1488.5 719.2 1491.3 718.7 1494.1 718.3C1496.9 717.9 1499.8 717.5 1502.6 717.4C1505.4 717.2 1508.2 717.5 1511.0 717.4C1513.8 717.2 1516.5 717.0 1519.4 716.7C1522.3 716.3 1525.5 715.9 1528.4 715.4C1531.3 714.9 1534.0 714.2 1536.8 713.5C1539.6 712.8 1542.5 711.7 1545.3 711.1C1548.1 710.6 1550.9 710.5 1553.7 710.4C1556.5 710.2 1559.3 710.3 1562.1 710.3C1564.9 710.3 1567.7 710.3 1570.5 710.4C1573.3 710.5 1576.1 710.7 1578.9 710.7C1581.7 710.8 1584.5 710.7 1587.3 710.6C1590.1 710.5 1593.0 710.3 1595.8 710.3C1598.6 710.2 1601.4 710.4 1604.2 710.4C1607.0 710.4 1609.8 710.2 1612.6 710.3C1615.4 710.3 1618.2 710.4 1621.0 710.6C1623.8 710.8 1626.6 711.3 1629.4 711.6C1632.2 711.8 1635.0 712.1 1637.8 712.1C1640.6 712.1 1643.5 711.8 1646.3 711.6C1649.1 711.4 1651.9 711.2 1654.7 710.9C1657.5 710.6 1660.3 710.3 1663.1 709.9C1665.9 709.6 1669.4 709.2 1671.5 709.0C1673.6 708.8 1673.6 708.7 1675.7 708.7C1677.8 708.8 1681.3 708.9 1684.1 709.2C1686.9 709.5 1690.2 710.1 1692.6 710.4C1695.0 710.6 1696.2 710.8 1698.5 710.6C1700.8 710.5 1704.1 709.8 1706.6 709.5C1709.1 709.2 1711.1 708.8 1713.3 708.8C1715.5 708.8 1717.9 709.0 1719.9 709.5C1721.9 709.9 1723.8 710.8 1725.4 711.7C1727.1 712.6 1728.3 713.5 1729.8 714.8C1731.3 716.2 1732.9 718.1 1734.3 719.9C1735.7 721.7 1736.9 723.6 1738.1 725.6C1739.3 727.6 1740.4 729.8 1741.4 731.9C1742.4 734.0 1743.3 736.1 1744.2 738.2C1745.1 740.3 1746.2 742.4 1747.0 744.5C1747.8 746.6 1748.5 748.7 1749.2 750.8C1749.9 752.9 1750.6 755.0 1751.2 757.1C1751.8 759.2 1752.3 761.4 1752.8 763.5C1753.3 765.6 1753.9 767.7 1754.4 769.8C1754.9 771.9 1755.4 774.0 1755.8 776.1C1756.2 778.2 1756.4 780.3 1756.9 782.4C1757.4 784.5 1758.3 786.7 1759.0 788.9C1759.7 791.1 1760.4 793.3 1761.1 795.4C1761.8 797.5 1762.3 799.5 1762.9 801.5C1763.5 803.6 1764.0 805.6 1764.6 807.6C1765.2 809.7 1765.8 811.7 1766.4 813.8C1767.0 815.8 1767.7 817.8 1768.3 819.9C1768.9 821.9 1769.5 823.9 1770.1 826.0C1770.7 828.0 1771.4 830.1 1772.1 832.1C1772.8 834.1 1773.3 836.2 1774.1 838.2C1774.8 840.3 1775.8 842.3 1776.6 844.3C1777.4 846.4 1778.2 848.6 1779.2 850.4C1780.2 852.3 1781.2 853.8 1782.5 855.4C1783.8 856.9 1785.1 858.5 1786.7 859.6C1788.3 860.8 1790.1 861.8 1792.1 862.4C1794.1 863.0 1796.4 863.3 1798.5 863.3C1800.6 863.3 1802.8 863.1 1804.9 862.7C1807.1 862.2 1809.4 861.5 1811.4 860.6C1813.5 859.6 1815.2 858.6 1817.2 857.2C1819.2 855.8 1821.4 853.9 1823.5 852.3C1825.6 850.6 1827.9 849.1 1830.0 847.4C1832.1 845.7 1834.2 843.7 1836.2 841.9C1838.2 840.0 1840.0 838.3 1841.9 836.4C1843.8 834.5 1845.8 832.4 1847.5 830.6C1849.2 828.7 1850.6 826.9 1852.3 825.1C1854.0 823.3 1855.7 821.5 1857.4 819.8C1859.1 818.1 1860.8 816.6 1862.5 815.0C1864.2 813.5 1865.9 811.9 1867.6 810.5C1869.3 809.1 1871.0 807.7 1872.7 806.4C1874.4 805.0 1876.2 803.6 1877.9 802.3C1879.6 801.0 1881.4 799.8 1883.1 798.5C1884.8 797.2 1886.6 796.0 1888.3 794.7C1890.0 793.5 1891.4 792.5 1893.1 791.1C1894.8 789.8 1896.4 788.3 1898.7 786.6C1901.0 785.0 1904.1 783.0 1906.9 781.2C1909.7 779.5 1912.5 777.7 1915.3 776.0C1918.1 774.3 1920.9 772.6 1923.7 771.0C1926.5 769.3 1929.3 767.6 1932.1 766.0C1934.9 764.4 1937.7 762.8 1940.5 761.2C1943.3 759.7 1946.1 758.2 1948.9 756.7C1951.7 755.2 1954.5 753.7 1957.3 752.3C1960.1 750.9 1963.0 749.5 1965.8 748.2C1968.6 746.9 1971.4 745.7 1974.2 744.5C1977.0 743.3 1979.8 742.2 1982.6 741.2C1985.4 740.3 1988.2 739.3 1991.0 738.6C1993.8 737.8 1996.6 737.1 1999.4 736.6C2002.2 736.1 2005.0 735.8 2007.8 735.5C2010.6 735.2 2013.5 734.8 2016.3 734.7C2019.1 734.6 2021.9 734.7 2024.7 734.8C2027.5 735.0 2030.6 735.1 2033.1 735.4C2035.6 735.7 2037.7 736.1 2039.8 736.8C2041.9 737.6 2043.3 738.5 2045.7 739.9C2048.1 741.3 2051.3 743.4 2054.1 745.2C2056.9 747.1 2059.8 749.1 2062.6 751.0C2065.4 752.8 2068.5 755.0 2071.0 756.5C2073.5 758.0 2075.9 759.2 2077.7 760.0C2079.5 760.8 2080.7 761.1 2082.0 761.5C2083.3 761.8 2084.3 761.9 2085.5 762.0C2086.7 762.2 2087.8 762.3 2089.0 762.2C2090.2 762.1 2091.4 762.0 2093.0 761.6C2094.6 761.2 2096.0 760.6 2098.5 759.9C2101.0 759.2 2104.7 757.9 2107.8 757.4C2110.9 756.8 2114.0 756.6 2117.1 756.4C2120.2 756.3 2123.3 756.6 2126.4 756.7C2129.5 756.7 2132.5 756.7 2135.6 756.7C2138.7 756.7 2141.8 756.5 2144.9 756.7C2148.0 756.8 2151.1 757.1 2154.2 757.5C2157.3 757.8 2160.3 758.3 2163.4 758.8C2166.5 759.4 2169.6 760.2 2172.7 761.0C2175.8 761.7 2178.9 762.7 2182.0 763.6C2185.1 764.4 2188.2 765.1 2191.3 766.0C2194.4 766.9 2197.4 767.6 2200.5 768.9C2203.6 770.2 2206.7 771.9 2209.8 773.6C2212.9 775.3 2216.0 777.4 2219.1 779.1C2222.2 780.8 2225.2 782.5 2228.3 783.8C2231.4 785.1 2234.5 786.0 2237.6 787.0C2240.7 787.9 2243.8 788.5 2246.9 789.3C2250.0 790.1 2253.1 790.9 2256.2 791.9C2259.3 793.0 2262.3 794.3 2265.4 795.6C2268.5 797.0 2271.6 798.6 2274.7 800.2C2277.8 801.7 2281.8 804.0 2284.0 805.2C2286.2 806.4 2287.5 807.1 2288.2 807.5"/>
<path stroke="#C28F00" d="M225.8 1058.0C227.3 1057.8 231.7 1057.7 234.6 1057.1C237.5 1056.5 240.2 1055.4 243.0 1054.4C245.8 1053.4 248.7 1052.4 251.5 1050.9C254.3 1049.4 257.1 1047.5 259.9 1045.4C262.7 1043.3 265.5 1040.2 268.3 1038.2C271.1 1036.1 273.9 1034.4 276.7 1033.0C279.5 1031.6 282.3 1030.9 285.1 1029.8C287.9 1028.7 290.7 1027.6 293.5 1026.6C296.3 1025.6 299.2 1025.1 302.0 1024.0C304.8 1022.8 307.6 1021.7 310.4 1020.0C313.2 1018.2 316.0 1015.9 318.8 1013.7C321.6 1011.5 324.4 1009.0 327.2 1006.8C330.0 1004.6 332.8 1002.8 335.6 1000.7C338.4 998.5 342.2 995.4 344.1 993.8C346.0 992.2 345.8 992.4 347.2 991.2C348.6 990.0 350.3 988.5 352.6 986.5C354.9 984.5 358.2 980.9 361.0 979.2C363.8 977.6 366.7 977.4 369.5 976.4C372.3 975.4 375.5 974.6 377.9 973.3C380.3 972.0 381.7 970.5 383.8 968.5C385.9 966.6 388.0 964.3 390.5 961.7C393.0 959.2 396.1 955.6 398.9 953.2C401.7 950.7 404.5 949.1 407.3 947.0C410.1 944.8 413.0 942.6 415.8 940.3C418.6 938.1 421.4 935.5 424.2 933.4C427.0 931.2 429.8 929.1 432.6 927.4C435.4 925.6 438.2 924.3 441.0 922.8C443.8 921.3 446.5 919.9 449.4 918.4C452.3 916.9 455.5 915.3 458.4 913.7C461.3 912.1 464.0 910.4 466.8 908.7C469.6 907.0 472.5 905.3 475.3 903.5C478.1 901.7 480.9 899.6 483.7 897.9C486.5 896.2 489.3 894.9 492.1 893.5C494.9 892.1 497.7 890.9 500.5 889.5C503.3 888.0 506.1 886.3 508.9 884.5C511.7 882.7 514.5 880.6 517.3 878.6C520.1 876.6 523.0 874.1 525.8 872.4C528.6 870.6 531.4 869.5 534.2 868.0C537.0 866.5 539.8 865.1 542.6 863.3C545.4 861.6 548.2 859.3 551.0 857.6C553.8 855.9 556.6 854.8 559.4 853.2C562.2 851.6 564.6 850.4 567.8 848.1C571.0 845.8 575.2 841.6 578.4 839.2C581.6 836.9 584.0 835.9 586.8 834.2C589.6 832.6 592.5 831.1 595.3 829.5C598.1 828.0 600.9 826.6 603.7 825.1C606.5 823.6 609.0 822.1 612.1 820.7C615.2 819.4 619.4 818.1 622.2 817.0C625.0 815.9 626.4 815.1 628.9 814.0C631.4 812.9 634.5 811.5 637.3 810.5C640.1 809.4 643.0 808.7 645.8 807.7C648.6 806.6 651.4 805.4 654.2 804.1C657.0 802.8 659.8 801.2 662.6 800.1C665.4 799.0 668.2 798.0 671.0 797.4C673.8 796.8 676.6 796.9 679.4 796.5C682.2 796.0 685.0 795.6 687.8 794.6C690.6 793.6 693.5 791.8 696.3 790.7C699.1 789.5 701.9 788.4 704.7 787.6C707.5 786.8 710.3 786.5 713.1 786.1C715.9 785.7 718.7 785.9 721.5 785.1C724.3 784.3 727.1 782.8 729.9 781.5C732.7 780.2 735.5 778.6 738.3 777.4C741.1 776.2 744.0 775.4 746.8 774.5C749.6 773.6 751.6 773.5 755.2 772.0C758.8 770.4 764.8 767.0 768.4 765.4C772.0 763.8 774.0 763.2 776.8 762.4C779.6 761.5 782.5 761.1 785.3 760.3C788.1 759.6 790.9 759.0 793.7 757.9C796.5 756.8 799.3 755.0 802.1 753.7C804.9 752.4 807.7 750.8 810.5 750.1C813.3 749.3 816.1 749.7 818.9 749.2C821.7 748.7 824.5 748.1 827.3 747.1C830.1 746.1 833.0 744.1 835.8 742.9C838.6 741.7 841.4 740.7 844.2 739.9C847.0 739.0 849.8 738.7 852.6 737.7C855.4 736.8 858.2 735.4 861.0 734.2C863.8 733.0 866.6 731.4 869.4 730.5C872.2 729.6 875.0 729.2 877.8 728.7C880.6 728.3 883.5 728.3 886.3 727.7C889.1 727.2 891.9 726.8 894.7 725.6C897.5 724.4 900.3 722.2 903.1 720.4C905.9 718.6 908.7 716.5 911.5 714.9C914.3 713.3 917.1 712.1 919.9 710.9C922.7 709.7 925.6 708.9 928.4 707.8C931.2 706.7 934.0 705.4 936.8 704.4C939.6 703.3 941.6 702.4 945.2 701.5C948.8 700.6 954.8 700.0 958.4 699.1C962.0 698.2 964.0 697.1 966.8 696.0C969.6 694.8 972.5 693.0 975.3 692.0C978.1 690.9 980.9 690.1 983.7 689.5C986.5 689.0 989.3 689.1 992.1 688.8C994.9 688.6 997.7 688.6 1000.5 688.1C1003.3 687.6 1006.1 687.0 1008.9 685.9C1011.7 684.8 1014.5 682.8 1017.3 681.5C1020.1 680.1 1023.0 678.8 1025.8 677.8C1028.6 676.8 1031.4 676.2 1034.2 675.5C1037.0 674.7 1039.8 673.9 1042.6 673.3C1045.4 672.8 1048.2 672.5 1051.0 672.1C1053.8 671.7 1056.6 671.3 1059.4 671.0C1062.2 670.6 1065.0 670.6 1067.8 670.0C1070.6 669.4 1073.5 668.6 1076.3 667.3C1079.1 666.1 1081.9 663.9 1084.7 662.6C1087.5 661.3 1090.3 660.2 1093.1 659.5C1095.9 658.8 1098.7 658.9 1101.5 658.3C1104.3 657.7 1107.1 656.8 1109.9 655.9C1112.7 655.0 1115.6 653.7 1118.4 652.9C1121.2 652.1 1124.0 651.5 1126.8 651.0C1129.6 650.5 1131.6 650.3 1135.2 649.8C1138.8 649.3 1144.8 648.3 1148.4 647.8C1152.0 647.3 1154.0 647.0 1156.8 646.6C1159.6 646.2 1162.5 645.9 1165.3 645.7C1168.1 645.4 1170.9 645.2 1173.7 645.0C1176.5 644.8 1179.3 644.6 1182.1 644.5C1184.9 644.3 1187.7 644.2 1190.5 643.9C1193.3 643.6 1196.1 643.0 1198.9 642.6C1201.7 642.2 1204.5 641.6 1207.3 641.4C1210.1 641.1 1213.0 640.9 1215.8 641.1C1218.6 641.3 1221.7 641.6 1224.2 642.3C1226.7 643.0 1228.8 644.1 1230.9 645.2C1233.0 646.4 1235.1 648.0 1236.8 649.5C1238.5 651.0 1239.6 652.5 1241.0 654.2C1242.4 655.9 1243.8 657.9 1245.2 659.7C1246.6 661.5 1248.0 663.1 1249.4 665.0C1250.8 666.9 1252.2 669.0 1253.6 671.0C1255.0 673.0 1256.4 675.1 1257.8 677.0C1259.2 678.9 1260.7 680.6 1262.1 682.4C1263.5 684.1 1264.9 686.0 1266.3 687.5C1267.7 688.9 1269.1 690.2 1270.5 691.1C1271.9 692.0 1273.3 692.7 1274.7 693.1C1276.1 693.5 1277.5 693.7 1278.9 693.7C1280.3 693.8 1281.0 693.7 1283.1 693.3C1285.2 692.9 1288.7 692.1 1291.5 691.5C1294.3 690.8 1297.1 690.3 1299.9 689.6C1302.7 688.9 1305.6 688.4 1308.4 687.5C1311.2 686.5 1314.0 685.3 1316.8 683.8C1319.6 682.3 1322.4 680.2 1325.2 678.3C1328.0 676.4 1330.0 674.9 1333.6 672.2C1337.2 669.6 1343.2 665.2 1346.8 662.4C1350.4 659.6 1352.5 657.4 1355.3 655.3C1358.1 653.2 1360.9 651.3 1363.7 649.6C1366.5 647.9 1369.3 646.3 1372.1 644.9C1374.9 643.4 1377.7 642.0 1380.5 640.8C1383.3 639.6 1386.4 638.9 1388.9 637.6C1391.4 636.3 1393.6 634.5 1395.7 633.0C1397.8 631.4 1399.1 629.8 1401.5 628.5C1403.9 627.2 1407.2 625.9 1410.0 625.0C1412.8 624.1 1415.6 623.8 1418.4 623.2C1421.2 622.5 1424.0 622.2 1426.8 621.2C1429.6 620.3 1432.4 618.5 1435.2 617.3C1438.0 616.1 1440.8 614.7 1443.6 614.0C1446.4 613.4 1449.3 613.6 1452.1 613.4C1454.9 613.1 1457.7 613.0 1460.5 612.5C1463.3 612.0 1466.1 611.1 1468.9 610.4C1471.7 609.7 1474.5 609.0 1477.3 608.3C1480.1 607.6 1482.9 606.8 1485.7 606.2C1488.5 605.5 1491.3 604.9 1494.1 604.4C1496.9 603.9 1499.8 603.4 1502.6 603.2C1505.4 603.0 1508.2 603.3 1511.0 603.2C1513.8 603.0 1516.5 602.7 1519.4 602.3C1522.3 601.9 1525.5 601.4 1528.4 600.7C1531.3 600.1 1534.0 599.3 1536.8 598.4C1539.6 597.5 1542.5 596.0 1545.3 595.4C1548.1 594.7 1550.9 594.6 1553.7 594.5C1556.5 594.3 1559.3 594.3 1562.1 594.3C1564.9 594.3 1567.7 594.4 1570.5 594.5C1573.3 594.6 1576.1 594.8 1578.9 594.9C1581.7 594.9 1584.5 594.8 1587.3 594.7C1590.1 594.6 1593.0 594.4 1595.8 594.3C1598.6 594.3 1601.4 594.5 1604.2 594.5C1607.0 594.5 1609.8 594.3 1612.6 594.3C1615.4 594.4 1618.2 594.5 1621.0 594.7C1623.8 595.0 1626.6 595.6 1629.4 596.0C1632.2 596.3 1635.0 596.6 1637.8 596.6C1640.6 596.6 1643.5 596.2 1646.3 596.0C1649.1 595.7 1651.9 595.4 1654.7 595.1C1657.5 594.8 1660.3 594.3 1663.1 593.9C1665.9 593.5 1669.4 592.9 1671.5 592.7C1673.6 592.4 1673.6 592.3 1675.7 592.4C1677.8 592.4 1681.3 592.6 1684.1 593.0C1686.9 593.3 1690.2 594.2 1692.6 594.5C1695.0 594.8 1696.2 594.9 1698.5 594.7C1700.8 594.6 1704.1 593.7 1706.6 593.3C1709.1 592.9 1711.1 592.5 1713.3 592.5C1715.5 592.5 1717.9 592.7 1719.9 593.3C1721.9 593.9 1723.8 595.0 1725.4 596.1C1727.1 597.2 1728.3 598.3 1729.8 600.0C1731.3 601.7 1732.9 604.1 1734.3 606.4C1735.7 608.6 1736.9 611.0 1738.1 613.5C1739.3 615.9 1740.4 618.7 1741.4 621.3C1742.4 623.9 1743.3 626.6 1744.2 629.2C1745.1 631.9 1746.2 634.5 1747.0 637.1C1747.8 639.7 1748.5 642.4 1749.2 645.0C1749.9 647.7 1750.6 650.3 1751.2 652.9C1751.8 655.5 1752.3 658.2 1752.8 660.8C1753.3 663.4 1753.9 666.0 1754.4 668.7C1754.9 671.3 1755.4 674.0 1755.8 676.6C1756.2 679.2 1756.4 681.8 1756.9 684.5C1757.4 687.1 1758.3 689.9 1759.0 692.6C1759.7 695.3 1760.4 698.1 1761.1 700.7C1761.8 703.4 1762.3 705.8 1762.9 708.4C1763.5 710.9 1764.0 713.5 1764.6 716.0C1765.2 718.6 1765.8 721.1 1766.4 723.7C1767.0 726.2 1767.7 728.8 1768.3 731.3C1768.9 733.9 1769.5 736.4 1770.1 739.0C1770.7 741.5 1771.4 744.1 1772.1 746.6C1772.8 749.1 1773.3 751.7 1774.1 754.2C1774.8 756.8 1775.8 759.3 1776.6 761.9C1777.4 764.4 1778.2 767.2 1779.2 769.5C1780.2 771.8 1781.2 773.8 1782.5 775.7C1783.8 777.6 1785.1 779.6 1786.7 781.0C1788.3 782.5 1790.1 783.7 1792.1 784.5C1794.1 785.2 1796.4 785.5 1798.5 785.6C1800.6 785.7 1802.8 785.4 1804.9 784.8C1807.1 784.2 1809.4 783.3 1811.4 782.2C1813.5 781.0 1815.2 779.7 1817.2 778.0C1819.2 776.2 1821.4 773.9 1823.5 771.8C1825.6 769.8 1827.9 767.9 1830.0 765.7C1832.1 763.6 1834.2 761.1 1836.2 758.8C1838.2 756.5 1840.0 754.3 1841.9 752.0C1843.8 749.6 1845.8 747.0 1847.5 744.7C1849.2 742.3 1850.6 740.1 1852.3 737.8C1854.0 735.6 1855.7 733.3 1857.4 731.2C1859.1 729.1 1860.8 727.2 1862.5 725.2C1864.2 723.3 1865.9 721.4 1867.6 719.6C1869.3 717.8 1871.0 716.2 1872.7 714.5C1874.4 712.8 1876.2 711.0 1877.9 709.4C1879.6 707.7 1881.4 706.2 1883.1 704.6C1884.8 703.0 1886.6 701.4 1888.3 699.9C1890.0 698.4 1891.4 697.1 1893.1 695.4C1894.8 693.7 1896.4 691.8 1898.7 689.7C1901.0 687.7 1904.1 685.2 1906.9 683.0C1909.7 680.8 1912.5 678.6 1915.3 676.5C1918.1 674.3 1920.9 672.3 1923.7 670.2C1926.5 668.1 1929.3 666.0 1932.1 664.0C1934.9 661.9 1937.7 660.0 1940.5 658.0C1943.3 656.1 1946.1 654.2 1948.9 652.3C1951.7 650.4 1954.5 648.6 1957.3 646.8C1960.1 645.0 1963.0 643.3 1965.8 641.7C1968.6 640.1 1971.4 638.5 1974.2 637.1C1977.0 635.7 1979.8 634.3 1982.6 633.0C1985.4 631.8 1988.2 630.6 1991.0 629.7C1993.8 628.7 1996.6 627.9 1999.4 627.2C2002.2 626.6 2005.0 626.2 2007.8 625.8C2010.6 625.4 2013.5 625.0 2016.3 624.9C2019.1 624.8 2021.9 624.9 2024.7 625.0C2027.5 625.2 2030.6 625.3 2033.1 625.7C2035.6 626.2 2037.7 626.6 2039.8 627.5C2041.9 628.5 2043.3 629.6 2045.7 631.3C2048.1 633.1 2051.3 635.7 2054.1 638.0C2056.9 640.3 2059.8 642.8 2062.6 645.2C2065.4 647.5 2068.5 650.2 2071.0 652.1C2073.5 654.0 2075.9 655.4 2077.7 656.5C2079.5 657.5 2080.7 657.9 2082.0 658.3C2083.3 658.7 2084.3 658.9 2085.5 659.0C2086.7 659.2 2087.8 659.3 2089.0 659.2C2090.2 659.1 2091.4 658.9 2093.0 658.5C2094.6 658.0 2096.0 657.3 2098.5 656.4C2101.0 655.5 2104.7 653.9 2107.8 653.2C2110.9 652.4 2114.0 652.2 2117.1 652.0C2120.2 651.9 2123.3 652.3 2126.4 652.3C2129.5 652.4 2132.5 652.3 2135.6 652.3C2138.7 652.3 2141.8 652.1 2144.9 652.3C2148.0 652.5 2151.1 652.9 2154.2 653.3C2157.3 653.8 2160.3 654.3 2163.4 655.0C2166.5 655.8 2169.6 656.7 2172.7 657.7C2175.8 658.7 2178.9 659.9 2182.0 661.0C2185.1 662.0 2188.2 662.8 2191.3 664.0C2194.4 665.1 2197.4 666.0 2200.5 667.6C2203.6 669.2 2206.7 671.3 2209.8 673.5C2212.9 675.6 2216.0 678.3 2219.1 680.4C2222.2 682.5 2225.2 684.6 2228.3 686.2C2231.4 687.9 2234.5 689.0 2237.6 690.2C2240.7 691.3 2243.8 692.1 2246.9 693.1C2250.0 694.1 2253.1 695.1 2256.2 696.4C2259.3 697.7 2262.3 699.3 2265.4 701.0C2268.5 702.7 2271.6 704.7 2274.7 706.7C2277.8 708.7 2281.8 711.4 2284.0 713.0C2286.2 714.5 2287.5 715.4 2288.2 715.9"/>
<path stroke="#E0AD00" d="M225.8 1034.7C227.3 1034.6 231.7 1034.4 234.6 1033.7C237.5 1033.0 240.2 1031.7 243.0 1030.4C245.8 1029.2 248.7 1028.0 251.5 1026.2C254.3 1024.4 257.1 1022.2 259.9 1019.6C262.7 1017.1 265.5 1013.5 268.3 1011.0C271.1 1008.5 273.9 1006.5 276.7 1004.8C279.5 1003.1 282.3 1002.2 285.1 1001.0C287.9 999.7 290.7 998.3 293.5 997.1C296.3 995.9 299.2 995.3 302.0 993.9C304.8 992.6 307.6 991.2 310.4 989.1C313.2 987.1 316.0 984.2 318.8 981.6C321.6 979.0 324.4 976.0 327.2 973.4C330.0 970.8 332.8 968.6 335.6 966.0C338.4 963.4 342.2 959.7 344.1 957.8C346.0 955.9 345.8 956.0 347.2 954.6C348.6 953.1 350.3 951.4 352.6 949.0C354.9 946.6 358.2 942.3 361.0 940.3C363.8 938.2 366.7 938.0 369.5 936.8C372.3 935.7 375.5 934.7 377.9 933.2C380.3 931.6 381.7 929.7 383.8 927.4C385.9 925.1 388.0 922.3 390.5 919.3C393.0 916.2 396.1 911.9 398.9 909.0C401.7 906.0 404.5 904.1 407.3 901.5C410.1 899.0 413.0 896.3 415.8 893.6C418.6 890.8 421.4 887.8 424.2 885.2C427.0 882.7 429.8 880.2 432.6 878.0C435.4 875.9 438.2 874.4 441.0 872.6C443.8 870.8 446.5 869.1 449.4 867.2C452.3 865.4 455.5 863.5 458.4 861.6C461.3 859.6 464.0 857.6 466.8 855.6C469.6 853.6 472.5 851.6 475.3 849.4C478.1 847.3 480.9 844.7 483.7 842.6C486.5 840.6 489.3 839.0 492.1 837.3C494.9 835.6 497.7 834.3 500.5 832.5C503.3 830.7 506.1 828.8 508.9 826.6C511.7 824.4 514.5 821.9 517.3 819.5C520.1 817.1 523.0 814.2 525.8 812.0C528.6 809.9 531.4 808.6 534.2 806.8C537.0 805.0 539.8 803.2 542.6 801.2C545.4 799.1 548.2 796.3 551.0 794.3C553.8 792.3 556.6 790.9 559.4 789.0C562.2 787.1 564.6 785.7 567.8 782.9C571.0 780.1 575.2 775.0 578.4 772.3C581.6 769.5 584.0 768.2 586.8 766.3C589.6 764.3 592.5 762.4 595.3 760.6C598.1 758.8 600.9 757.1 603.7 755.3C606.5 753.5 609.0 751.7 612.1 750.1C615.2 748.5 619.4 747.0 622.2 745.6C625.0 744.3 626.4 743.3 628.9 742.0C631.4 740.7 634.5 739.0 637.3 737.7C640.1 736.5 643.0 735.7 645.8 734.4C648.6 733.1 651.4 731.6 654.2 730.1C657.0 728.6 659.8 726.6 662.6 725.3C665.4 724.0 668.2 722.8 671.0 722.0C673.8 721.3 676.6 721.5 679.4 720.9C682.2 720.4 685.0 719.9 687.8 718.7C690.6 717.5 693.5 715.4 696.3 714.0C699.1 712.6 701.9 711.2 704.7 710.3C707.5 709.4 710.3 709.0 713.1 708.5C715.9 708.0 718.7 708.2 721.5 707.3C724.3 706.4 727.1 704.6 729.9 703.0C732.7 701.5 735.5 699.4 738.3 698.0C741.1 696.6 744.0 695.7 746.8 694.6C749.6 693.5 751.6 693.4 755.2 691.5C758.8 689.7 764.8 685.6 768.4 683.6C772.0 681.7 774.0 681.1 776.8 680.0C779.6 679.0 782.5 678.5 785.3 677.6C788.1 676.7 790.9 676.0 793.7 674.6C796.5 673.3 799.3 671.1 802.1 669.6C804.9 668.0 807.7 666.2 810.5 665.3C813.3 664.4 816.1 664.8 818.9 664.2C821.7 663.6 824.5 663.0 827.3 661.7C830.1 660.4 833.0 658.1 835.8 656.6C838.6 655.2 841.4 654.1 844.2 653.0C847.0 652.0 849.8 651.6 852.6 650.5C855.4 649.3 858.2 647.6 861.0 646.2C863.8 644.7 866.6 642.9 869.4 641.8C872.2 640.7 875.0 640.2 877.8 639.7C880.6 639.1 883.5 639.1 886.3 638.5C889.1 637.8 891.9 637.4 894.7 635.9C897.5 634.4 900.3 631.8 903.1 629.6C905.9 627.5 908.7 624.9 911.5 623.0C914.3 621.1 917.1 619.7 919.9 618.2C922.7 616.8 925.6 615.9 928.4 614.6C931.2 613.3 934.0 611.7 936.8 610.4C939.6 609.2 941.6 608.1 945.2 607.0C948.8 606.0 954.8 605.2 958.4 604.1C962.0 603.0 964.0 601.8 966.8 600.3C969.6 598.9 972.5 596.8 975.3 595.5C978.1 594.2 980.9 593.2 983.7 592.6C986.5 592.0 989.3 592.0 992.1 591.8C994.9 591.5 997.7 591.5 1000.5 590.9C1003.3 590.3 1006.1 589.6 1008.9 588.2C1011.7 586.9 1014.5 584.5 1017.3 582.9C1020.1 581.3 1023.0 579.8 1025.8 578.6C1028.6 577.4 1031.4 576.6 1034.2 575.7C1037.0 574.8 1039.8 573.8 1042.6 573.2C1045.4 572.5 1048.2 572.2 1051.0 571.7C1053.8 571.2 1056.6 570.7 1059.4 570.3C1062.2 569.9 1065.0 569.9 1067.8 569.2C1070.6 568.5 1073.5 567.4 1076.3 566.0C1079.1 564.5 1081.9 561.9 1084.7 560.3C1087.5 558.7 1090.3 557.5 1093.1 556.6C1095.9 555.8 1098.7 555.9 1101.5 555.2C1104.3 554.4 1107.1 553.3 1109.9 552.2C1112.7 551.2 1115.6 549.6 1118.4 548.6C1121.2 547.7 1124.0 547.0 1126.8 546.4C1129.6 545.8 1131.6 545.6 1135.2 545.0C1138.8 544.3 1144.8 543.2 1148.4 542.6C1152.0 541.9 1154.0 541.5 1156.8 541.1C1159.6 540.7 1162.5 540.3 1165.3 540.0C1168.1 539.7 1170.9 539.5 1173.7 539.2C1176.5 539.0 1179.3 538.8 1182.1 538.5C1184.9 538.3 1187.7 538.2 1190.5 537.8C1193.3 537.5 1196.1 536.8 1198.9 536.3C1201.7 535.8 1204.5 535.1 1207.3 534.8C1210.1 534.5 1213.0 534.3 1215.8 534.5C1218.6 534.7 1221.7 535.1 1224.2 536.0C1226.7 536.8 1228.8 538.0 1230.9 539.5C1233.0 540.9 1235.1 542.7 1236.8 544.5C1238.5 546.3 1239.6 548.2 1241.0 550.3C1242.4 552.3 1243.8 554.6 1245.2 556.8C1246.6 558.9 1248.0 560.9 1249.4 563.2C1250.8 565.5 1252.2 568.0 1253.6 570.4C1255.0 572.8 1256.4 575.3 1257.8 577.6C1259.2 579.9 1260.7 582.0 1262.1 584.0C1263.5 586.1 1264.9 588.4 1266.3 590.1C1267.7 591.9 1269.1 593.4 1270.5 594.5C1271.9 595.6 1273.3 596.4 1274.7 596.9C1276.1 597.4 1277.5 597.6 1278.9 597.7C1280.3 597.7 1281.0 597.6 1283.1 597.2C1285.2 596.7 1288.7 595.7 1291.5 594.9C1294.3 594.2 1297.1 593.5 1299.9 592.7C1302.7 591.9 1305.6 591.3 1308.4 590.1C1311.2 589.0 1314.0 587.6 1316.8 585.8C1319.6 583.9 1322.4 581.5 1325.2 579.2C1328.0 576.8 1330.0 575.1 1333.6 571.9C1337.2 568.7 1343.2 563.4 1346.8 560.0C1350.4 556.7 1352.5 554.1 1355.3 551.6C1358.1 549.0 1360.9 546.8 1363.7 544.7C1366.5 542.6 1369.3 540.8 1372.1 539.0C1374.9 537.3 1377.7 535.6 1380.5 534.2C1383.3 532.7 1386.4 531.9 1388.9 530.3C1391.4 528.7 1393.6 526.5 1395.7 524.7C1397.8 522.9 1399.1 521.0 1401.5 519.4C1403.9 517.8 1407.2 516.3 1410.0 515.2C1412.8 514.1 1415.6 513.7 1418.4 513.0C1421.2 512.2 1424.0 511.8 1426.8 510.7C1429.6 509.5 1432.4 507.4 1435.2 506.0C1438.0 504.5 1440.8 502.8 1443.6 502.0C1446.4 501.2 1449.3 501.5 1452.1 501.2C1454.9 500.9 1457.7 500.8 1460.5 500.2C1463.3 499.6 1466.1 498.5 1468.9 497.6C1471.7 496.8 1474.5 496.0 1477.3 495.2C1480.1 494.3 1482.9 493.4 1485.7 492.6C1488.5 491.8 1491.3 491.0 1494.1 490.4C1496.9 489.8 1499.8 489.2 1502.6 489.0C1505.4 488.7 1508.2 489.2 1511.0 489.0C1513.8 488.8 1516.5 488.4 1519.4 488.0C1522.3 487.5 1525.5 486.9 1528.4 486.1C1531.3 485.3 1534.0 484.3 1536.8 483.2C1539.6 482.2 1542.5 480.4 1545.3 479.6C1548.1 478.9 1550.9 478.7 1553.7 478.5C1556.5 478.3 1559.3 478.4 1562.1 478.4C1564.9 478.4 1567.7 478.4 1570.5 478.5C1573.3 478.6 1576.1 479.0 1578.9 479.0C1581.7 479.1 1584.5 479.0 1587.3 478.9C1590.1 478.8 1593.0 478.4 1595.8 478.4C1598.6 478.3 1601.4 478.5 1604.2 478.5C1607.0 478.5 1609.8 478.3 1612.6 478.4C1615.4 478.4 1618.2 478.5 1621.0 478.9C1623.8 479.2 1626.6 480.0 1629.4 480.3C1632.2 480.7 1635.0 481.1 1637.8 481.1C1640.6 481.1 1643.5 480.6 1646.3 480.3C1649.1 480.0 1651.9 479.7 1654.7 479.3C1657.5 478.9 1660.3 478.3 1663.1 477.8C1665.9 477.4 1669.4 476.7 1671.5 476.4C1673.6 476.1 1673.6 476.0 1675.7 476.0C1677.8 476.1 1681.3 476.3 1684.1 476.7C1686.9 477.1 1690.2 478.2 1692.6 478.5C1695.0 478.9 1696.2 479.1 1698.5 478.9C1700.8 478.6 1704.1 477.6 1706.6 477.2C1709.1 476.7 1711.1 476.2 1713.3 476.2C1715.5 476.2 1717.9 476.4 1719.9 477.2C1721.9 477.9 1723.8 479.2 1725.4 480.5C1727.1 481.8 1728.3 483.2 1729.8 485.2C1731.3 487.3 1732.9 490.2 1734.3 492.8C1735.7 495.5 1736.9 498.3 1738.1 501.3C1739.3 504.3 1740.4 507.6 1741.4 510.8C1742.4 513.9 1743.3 517.1 1744.2 520.3C1745.1 523.4 1746.2 526.5 1747.0 529.7C1747.8 532.9 1748.5 536.1 1749.2 539.2C1749.9 542.4 1750.6 545.5 1751.2 548.6C1751.8 551.8 1752.3 555.0 1752.8 558.2C1753.3 561.3 1753.9 564.4 1754.4 567.6C1754.9 570.7 1755.4 573.9 1755.8 577.1C1756.2 580.3 1756.4 583.3 1756.9 586.5C1757.4 589.7 1758.3 593.0 1759.0 596.3C1759.7 599.6 1760.4 602.9 1761.1 606.1C1761.8 609.2 1762.3 612.2 1762.9 615.2C1763.5 618.3 1764.0 621.4 1764.6 624.4C1765.2 627.5 1765.8 630.5 1766.4 633.6C1767.0 636.6 1767.7 639.7 1768.3 642.8C1768.9 645.8 1769.5 648.9 1770.1 651.9C1770.7 655.0 1771.4 658.0 1772.1 661.1C1772.8 664.2 1773.3 667.2 1774.1 670.3C1774.8 673.3 1775.8 676.4 1776.6 679.4C1777.4 682.5 1778.2 685.9 1779.2 688.6C1780.2 691.4 1781.2 693.7 1782.5 696.0C1783.8 698.3 1785.1 700.7 1786.7 702.4C1788.3 704.2 1790.1 705.6 1792.1 706.5C1794.1 707.4 1796.4 707.8 1798.5 707.9C1800.6 708.0 1802.8 707.6 1804.9 707.0C1807.1 706.3 1809.4 705.2 1811.4 703.8C1813.5 702.4 1815.2 700.8 1817.2 698.7C1819.2 696.7 1821.4 693.8 1823.5 691.4C1825.6 688.9 1827.9 686.7 1830.0 684.1C1832.1 681.5 1834.2 678.5 1836.2 675.8C1838.2 673.0 1840.0 670.4 1841.9 667.5C1843.8 664.7 1845.8 661.6 1847.5 658.8C1849.2 656.0 1850.6 653.2 1852.3 650.6C1854.0 647.9 1855.7 645.2 1857.4 642.7C1859.1 640.2 1860.8 637.8 1862.5 635.5C1864.2 633.1 1865.9 630.9 1867.6 628.7C1869.3 626.5 1871.0 624.6 1872.7 622.5C1874.4 620.5 1876.2 618.4 1877.9 616.4C1879.6 614.5 1881.4 612.6 1883.1 610.7C1884.8 608.8 1886.6 606.9 1888.3 605.0C1890.0 603.2 1891.4 601.7 1893.1 599.6C1894.8 597.6 1896.4 595.3 1898.7 592.9C1901.0 590.4 1904.1 587.5 1906.9 584.8C1909.7 582.2 1912.5 579.5 1915.3 576.9C1918.1 574.4 1920.9 571.9 1923.7 569.4C1926.5 566.9 1929.3 564.4 1932.1 561.9C1934.9 559.5 1937.7 557.1 1940.5 554.8C1943.3 552.5 1946.1 550.2 1948.9 548.0C1951.7 545.7 1954.5 543.5 1957.3 541.4C1960.1 539.2 1963.0 537.1 1965.8 535.2C1968.6 533.2 1971.4 531.4 1974.2 529.7C1977.0 528.0 1979.8 526.3 1982.6 524.8C1985.4 523.3 1988.2 521.9 1991.0 520.8C1993.8 519.6 1996.6 518.6 1999.4 517.9C2002.2 517.1 2005.0 516.6 2007.8 516.2C2010.6 515.7 2013.5 515.2 2016.3 515.0C2019.1 514.9 2021.9 515.0 2024.7 515.2C2027.5 515.4 2030.6 515.6 2033.1 516.1C2035.6 516.6 2037.7 517.1 2039.8 518.2C2041.9 519.3 2043.3 520.7 2045.7 522.8C2048.1 524.9 2051.3 528.0 2054.1 530.8C2056.9 533.6 2059.8 536.6 2062.6 539.4C2065.4 542.2 2068.5 545.4 2071.0 547.7C2073.5 550.0 2075.9 551.7 2077.7 552.9C2079.5 554.2 2080.7 554.6 2082.0 555.2C2083.3 555.7 2084.3 555.8 2085.5 556.0C2086.7 556.2 2087.8 556.4 2089.0 556.3C2090.2 556.2 2091.4 555.9 2093.0 555.3C2094.6 554.8 2096.0 553.9 2098.5 552.8C2101.0 551.8 2104.7 549.9 2107.8 549.0C2110.9 548.1 2114.0 547.8 2117.1 547.6C2120.2 547.4 2123.3 547.9 2126.4 548.0C2129.5 548.0 2132.5 548.0 2135.6 548.0C2138.7 548.0 2141.8 547.8 2144.9 548.0C2148.0 548.2 2151.1 548.6 2154.2 549.2C2157.3 549.7 2160.3 550.3 2163.4 551.2C2166.5 552.1 2169.6 553.2 2172.7 554.4C2175.8 555.6 2178.9 557.1 2182.0 558.3C2185.1 559.6 2188.2 560.6 2191.3 561.9C2194.4 563.3 2197.4 564.4 2200.5 566.3C2203.6 568.2 2206.7 570.8 2209.8 573.3C2212.9 575.9 2216.0 579.1 2219.1 581.6C2222.2 584.2 2225.2 586.7 2228.3 588.7C2231.4 590.6 2234.5 592.0 2237.6 593.4C2240.7 594.8 2243.8 595.7 2246.9 596.9C2250.0 598.1 2253.1 599.3 2256.2 600.8C2259.3 602.4 2262.3 604.4 2265.4 606.4C2268.5 608.5 2271.6 610.8 2274.7 613.2C2277.8 615.6 2281.8 618.9 2284.0 620.7C2286.2 622.6 2287.5 623.7 2288.2 624.2"/>
<path stroke="#FFCC00" d="M225.8 1011.5C227.3 1011.3 231.7 1011.1 234.6 1010.3C237.5 1009.5 240.2 1008.0 243.0 1006.5C245.8 1005.0 248.7 1003.7 251.5 1001.6C254.3 999.5 257.1 996.9 259.9 993.9C262.7 990.9 265.5 986.7 268.3 983.8C271.1 980.9 273.9 978.5 276.7 976.6C279.5 974.7 282.3 973.6 285.1 972.1C287.9 970.6 290.7 969.0 293.5 967.6C296.3 966.2 299.2 965.5 302.0 963.9C304.8 962.3 307.6 960.7 310.4 958.3C313.2 955.9 316.0 952.6 318.8 949.5C321.6 946.4 324.4 942.9 327.2 939.9C330.0 936.9 332.8 934.3 335.6 931.3C338.4 928.3 342.2 923.9 344.1 921.7C346.0 919.5 345.8 919.7 347.2 918.0C348.6 916.3 350.3 914.3 352.6 911.5C354.9 908.7 358.2 903.7 361.0 901.3C363.8 898.9 366.7 898.7 369.5 897.3C372.3 895.9 375.5 894.8 377.9 893.0C380.3 891.2 381.7 889.0 383.8 886.3C385.9 883.6 388.0 880.4 390.5 876.8C393.0 873.2 396.1 868.2 398.9 864.8C401.7 861.3 404.5 859.1 407.3 856.1C410.1 853.1 413.0 850.0 415.8 846.8C418.6 843.6 421.4 840.1 424.2 837.1C427.0 834.1 429.8 831.2 432.6 828.7C435.4 826.2 438.2 824.4 441.0 822.3C443.8 820.2 446.5 818.2 449.4 816.1C452.3 814.0 455.5 811.8 458.4 809.5C461.3 807.2 464.0 804.9 466.8 802.5C469.6 800.1 472.5 797.8 475.3 795.3C478.1 792.8 480.9 789.8 483.7 787.4C486.5 785.0 489.3 783.2 492.1 781.2C494.9 779.2 497.7 777.7 500.5 775.6C503.3 773.5 506.1 771.2 508.9 768.7C511.7 766.2 514.5 763.2 517.3 760.4C520.1 757.6 523.0 754.2 525.8 751.7C528.6 749.2 531.4 747.7 534.2 745.6C537.0 743.5 539.8 741.4 542.6 739.0C545.4 736.6 548.2 733.4 551.0 731.0C553.8 728.6 556.6 727.0 559.4 724.8C562.2 722.6 564.6 721.0 567.8 717.7C571.0 714.5 575.2 708.5 578.4 705.3C581.6 702.1 584.0 700.6 586.8 698.3C589.6 696.0 592.5 693.8 595.3 691.7C598.1 689.6 600.9 687.5 603.7 685.5C606.5 683.5 609.0 681.3 612.1 679.4C615.2 677.5 619.4 675.8 622.2 674.2C625.0 672.6 626.4 671.5 628.9 670.0C631.4 668.5 634.5 666.5 637.3 665.0C640.1 663.5 643.0 662.6 645.8 661.1C648.6 659.6 651.4 657.9 654.2 656.1C657.0 654.3 659.8 652.1 662.6 650.5C665.4 648.9 668.2 647.6 671.0 646.7C673.8 645.9 676.6 646.0 679.4 645.4C682.2 644.8 685.0 644.1 687.8 642.8C690.6 641.4 693.5 638.9 696.3 637.3C699.1 635.7 701.9 634.1 704.7 633.0C707.5 631.9 710.3 631.5 713.1 630.9C715.9 630.3 718.7 630.6 721.5 629.5C724.3 628.4 727.1 626.3 729.9 624.5C732.7 622.7 735.5 620.3 738.3 618.7C741.1 617.1 744.0 616.0 746.8 614.7C749.6 613.4 751.6 613.2 755.2 611.1C758.8 609.0 764.8 604.1 768.4 601.9C772.0 599.7 774.0 598.9 776.8 597.7C779.6 596.5 782.5 595.8 785.3 594.8C788.1 593.8 790.9 592.9 793.7 591.4C796.5 589.9 799.3 587.3 802.1 585.5C804.9 583.7 807.7 581.5 810.5 580.5C813.3 579.5 816.1 579.9 818.9 579.2C821.7 578.5 824.5 577.8 827.3 576.3C830.1 574.8 833.0 572.1 835.8 570.4C838.6 568.7 841.4 567.4 844.2 566.2C847.0 565.0 849.8 564.5 852.6 563.2C855.4 561.9 858.2 559.9 861.0 558.2C863.8 556.5 866.6 554.4 869.4 553.1C872.2 551.8 875.0 551.2 877.8 550.6C880.6 550.0 883.5 549.9 886.3 549.2C889.1 548.5 891.9 547.9 894.7 546.2C897.5 544.5 900.3 541.4 903.1 538.9C905.9 536.4 908.7 533.4 911.5 531.2C914.3 529.0 917.1 527.2 919.9 525.6C922.7 524.0 925.6 522.8 928.4 521.3C931.2 519.8 934.0 518.0 936.8 516.5C939.6 515.0 941.6 513.7 945.2 512.5C948.8 511.3 954.8 510.4 958.4 509.1C962.0 507.8 964.0 506.4 966.8 504.7C969.6 503.0 972.5 500.6 975.3 499.1C978.1 497.6 980.9 496.4 983.7 495.7C986.5 495.0 989.3 495.0 992.1 494.7C994.9 494.4 997.7 494.4 1000.5 493.7C1003.3 493.0 1006.1 492.2 1008.9 490.6C1011.7 489.1 1014.5 486.3 1017.3 484.4C1020.1 482.5 1023.0 480.7 1025.8 479.3C1028.6 477.9 1031.4 477.1 1034.2 476.0C1037.0 474.9 1039.8 473.8 1042.6 473.0C1045.4 472.2 1048.2 471.8 1051.0 471.3C1053.8 470.7 1056.6 470.2 1059.4 469.7C1062.2 469.2 1065.0 469.2 1067.8 468.4C1070.6 467.5 1073.5 466.3 1076.3 464.6C1079.1 462.9 1081.9 459.8 1084.7 458.0C1087.5 456.2 1090.3 454.7 1093.1 453.7C1095.9 452.7 1098.7 452.9 1101.5 452.0C1104.3 451.1 1107.1 449.9 1109.9 448.6C1112.7 447.3 1115.6 445.5 1118.4 444.4C1121.2 443.3 1124.0 442.5 1126.8 441.8C1129.6 441.1 1131.6 440.9 1135.2 440.1C1138.8 439.4 1144.8 438.0 1148.4 437.3C1152.0 436.5 1154.0 436.1 1156.8 435.6C1159.6 435.1 1162.5 434.7 1165.3 434.3C1168.1 433.9 1170.9 433.7 1173.7 433.4C1176.5 433.1 1179.3 432.9 1182.1 432.6C1184.9 432.3 1187.7 432.2 1190.5 431.8C1193.3 431.4 1196.1 430.6 1198.9 430.0C1201.7 429.4 1204.5 428.6 1207.3 428.3C1210.1 427.9 1213.0 427.7 1215.8 427.9C1218.6 428.1 1221.7 428.6 1224.2 429.6C1226.7 430.6 1228.8 432.0 1230.9 433.7C1233.0 435.4 1235.1 437.5 1236.8 439.6C1238.5 441.7 1239.6 443.9 1241.0 446.3C1242.4 448.7 1243.8 451.4 1245.2 453.9C1246.6 456.4 1248.0 458.8 1249.4 461.4C1250.8 464.0 1252.2 467.0 1253.6 469.8C1255.0 472.6 1256.4 475.6 1257.8 478.2C1259.2 480.9 1260.7 483.3 1262.1 485.7C1263.5 488.1 1264.9 490.8 1266.3 492.8C1267.7 494.8 1269.1 496.6 1270.5 497.9C1271.9 499.2 1273.3 500.1 1274.7 500.7C1276.1 501.3 1277.5 501.6 1278.9 501.6C1280.3 501.7 1281.0 501.5 1283.1 501.0C1285.2 500.5 1288.7 499.3 1291.5 498.4C1294.3 497.5 1297.1 496.7 1299.9 495.8C1302.7 494.9 1305.6 494.1 1308.4 492.8C1311.2 491.4 1314.0 489.8 1316.8 487.7C1319.6 485.6 1322.4 482.7 1325.2 480.0C1328.0 477.3 1330.0 475.2 1333.6 471.5C1337.2 467.8 1343.2 461.7 1346.8 457.7C1350.4 453.8 1352.5 450.8 1355.3 447.8C1358.1 444.8 1360.9 442.2 1363.7 439.8C1366.5 437.4 1369.3 435.3 1372.1 433.2C1374.9 431.2 1377.7 429.2 1380.5 427.5C1383.3 425.8 1386.4 424.8 1388.9 423.0C1391.4 421.2 1393.6 418.6 1395.7 416.5C1397.8 414.4 1399.1 412.1 1401.5 410.3C1403.9 408.4 1407.2 406.6 1410.0 405.4C1412.8 404.1 1415.6 403.7 1418.4 402.8C1421.2 401.9 1424.0 401.5 1426.8 400.1C1429.6 398.7 1432.4 396.3 1435.2 394.6C1438.0 392.9 1440.8 390.9 1443.6 390.0C1446.4 389.1 1449.3 389.5 1452.1 389.1C1454.9 388.8 1457.7 388.6 1460.5 387.9C1463.3 387.2 1466.1 385.9 1468.9 384.9C1471.7 383.9 1474.5 383.0 1477.3 382.0C1480.1 381.0 1482.9 379.9 1485.7 379.0C1488.5 378.1 1491.3 377.2 1494.1 376.5C1496.9 375.8 1499.8 375.1 1502.6 374.8C1505.4 374.5 1508.2 375.0 1511.0 374.8C1513.8 374.6 1516.5 374.2 1519.4 373.6C1522.3 373.0 1525.5 372.3 1528.4 371.4C1531.3 370.5 1534.0 369.4 1536.8 368.1C1539.6 366.9 1542.5 364.8 1545.3 363.9C1548.1 363.0 1550.9 362.9 1553.7 362.6C1556.5 362.4 1559.3 362.4 1562.1 362.4C1564.9 362.4 1567.7 362.5 1570.5 362.6C1573.3 362.7 1576.1 363.1 1578.9 363.2C1581.7 363.3 1584.5 363.1 1587.3 363.0C1590.1 362.9 1593.0 362.5 1595.8 362.4C1598.6 362.3 1601.4 362.6 1604.2 362.6C1607.0 362.6 1609.8 362.3 1612.6 362.4C1615.4 362.5 1618.2 362.6 1621.0 363.0C1623.8 363.4 1626.6 364.3 1629.4 364.7C1632.2 365.1 1635.0 365.6 1637.8 365.6C1640.6 365.6 1643.5 365.1 1646.3 364.7C1649.1 364.4 1651.9 364.0 1654.7 363.5C1657.5 363.0 1660.3 362.4 1663.1 361.8C1665.9 361.2 1669.4 360.4 1671.5 360.1C1673.6 359.8 1673.6 359.6 1675.7 359.7C1677.8 359.8 1681.3 360.0 1684.1 360.5C1686.9 361.0 1690.2 362.2 1692.6 362.6C1695.0 363.0 1696.2 363.3 1698.5 363.0C1700.8 362.7 1704.1 361.5 1706.6 361.0C1709.1 360.5 1711.1 359.9 1713.3 359.9C1715.5 359.9 1717.9 360.2 1719.9 361.0C1721.9 361.8 1723.8 363.3 1725.4 364.9C1727.1 366.5 1728.3 368.0 1729.8 370.4C1731.3 372.8 1732.9 376.2 1734.3 379.3C1735.7 382.4 1736.9 385.7 1738.1 389.2C1739.3 392.7 1740.4 396.5 1741.4 400.2C1742.4 403.9 1743.3 407.6 1744.2 411.3C1745.1 415.0 1746.2 418.6 1747.0 422.3C1747.8 426.0 1748.5 429.7 1749.2 433.4C1749.9 437.1 1750.6 440.7 1751.2 444.4C1751.8 448.1 1752.3 451.8 1752.8 455.5C1753.3 459.2 1753.9 462.8 1754.4 466.5C1754.9 470.2 1755.4 473.9 1755.8 477.6C1756.2 481.3 1756.4 484.9 1756.9 488.6C1757.4 492.3 1758.3 496.2 1759.0 500.0C1759.7 503.8 1760.4 507.7 1761.1 511.4C1761.8 515.1 1762.3 518.5 1762.9 522.1C1763.5 525.7 1764.0 529.2 1764.6 532.8C1765.2 536.4 1765.8 539.9 1766.4 543.5C1767.0 547.1 1767.7 550.6 1768.3 554.2C1768.9 557.8 1769.5 561.3 1770.1 564.9C1770.7 568.5 1771.4 572.0 1772.1 575.6C1772.8 579.2 1773.3 582.7 1774.1 586.3C1774.8 589.9 1775.8 593.4 1776.6 597.0C1777.4 600.6 1778.2 604.5 1779.2 607.7C1780.2 610.9 1781.2 613.6 1782.5 616.3C1783.8 619.0 1785.1 621.8 1786.7 623.8C1788.3 625.8 1790.1 627.5 1792.1 628.6C1794.1 629.7 1796.4 630.1 1798.5 630.2C1800.6 630.3 1802.8 629.9 1804.9 629.1C1807.1 628.3 1809.4 627.0 1811.4 625.4C1813.5 623.8 1815.2 621.9 1817.2 619.5C1819.2 617.1 1821.4 613.8 1823.5 610.9C1825.6 608.0 1827.9 605.4 1830.0 602.4C1832.1 599.4 1834.2 595.9 1836.2 592.7C1838.2 589.5 1840.0 586.4 1841.9 583.1C1843.8 579.8 1845.8 576.2 1847.5 572.9C1849.2 569.6 1850.6 566.4 1852.3 563.3C1854.0 560.2 1855.7 557.0 1857.4 554.1C1859.1 551.2 1860.8 548.4 1862.5 545.7C1864.2 543.0 1865.9 540.3 1867.6 537.8C1869.3 535.3 1871.0 533.0 1872.7 530.6C1874.4 528.2 1876.2 525.8 1877.9 523.5C1879.6 521.2 1881.4 519.0 1883.1 516.8C1884.8 514.6 1886.6 512.4 1888.3 510.2C1890.0 508.1 1891.4 506.3 1893.1 503.9C1894.8 501.5 1896.4 498.9 1898.7 496.0C1901.0 493.1 1904.1 489.7 1906.9 486.6C1909.7 483.5 1912.5 480.4 1915.3 477.4C1918.1 474.4 1920.9 471.5 1923.7 468.6C1926.5 465.7 1929.3 462.7 1932.1 459.9C1934.9 457.1 1937.7 454.3 1940.5 451.6C1943.3 448.9 1946.1 446.2 1948.9 443.6C1951.7 441.0 1954.5 438.4 1957.3 435.9C1960.1 433.4 1963.0 431.0 1965.8 428.7C1968.6 426.4 1971.4 424.3 1974.2 422.3C1977.0 420.3 1979.8 418.3 1982.6 416.6C1985.4 414.9 1988.2 413.2 1991.0 411.9C1993.8 410.5 1996.6 409.4 1999.4 408.5C2002.2 407.6 2005.0 407.1 2007.8 406.5C2010.6 405.9 2013.5 405.4 2016.3 405.2C2019.1 405.0 2021.9 405.2 2024.7 405.4C2027.5 405.6 2030.6 405.8 2033.1 406.4C2035.6 407.0 2037.7 407.6 2039.8 408.9C2041.9 410.2 2043.3 411.8 2045.7 414.2C2048.1 416.7 2051.3 420.4 2054.1 423.6C2056.9 426.8 2059.8 430.3 2062.6 433.6C2065.4 436.9 2068.5 440.7 2071.0 443.3C2073.5 445.9 2075.9 447.9 2077.7 449.4C2079.5 450.8 2080.7 451.4 2082.0 452.0C2083.3 452.6 2084.3 452.8 2085.5 453.0C2086.7 453.2 2087.8 453.4 2089.0 453.3C2090.2 453.2 2091.4 452.9 2093.0 452.2C2094.6 451.5 2096.0 450.5 2098.5 449.3C2101.0 448.1 2104.7 445.8 2107.8 444.8C2110.9 443.8 2114.0 443.4 2117.1 443.2C2120.2 443.0 2123.3 443.5 2126.4 443.6C2129.5 443.7 2132.5 443.6 2135.6 443.6C2138.7 443.6 2141.8 443.4 2144.9 443.6C2148.0 443.8 2151.1 444.4 2154.2 445.0C2157.3 445.6 2160.3 446.4 2163.4 447.4C2166.5 448.4 2169.6 449.7 2172.7 451.1C2175.8 452.5 2178.9 454.2 2182.0 455.7C2185.1 457.2 2188.2 458.3 2191.3 459.9C2194.4 461.4 2197.4 462.8 2200.5 465.0C2203.6 467.2 2206.7 470.2 2209.8 473.2C2212.9 476.2 2216.0 479.9 2219.1 482.9C2222.2 485.9 2225.2 488.8 2228.3 491.1C2231.4 493.4 2234.5 495.0 2237.6 496.6C2240.7 498.2 2243.8 499.3 2246.9 500.7C2250.0 502.2 2253.1 503.4 2256.2 505.3C2259.3 507.1 2262.3 509.4 2265.4 511.8C2268.5 514.2 2271.6 516.9 2274.7 519.7C2277.8 522.5 2281.8 526.4 2284.0 528.5C2286.2 530.6 2287.5 531.9 2288.2 532.6"/>
</g>
<line x1="617.6" y1="43.9" x2="617.6" y2="1174.1" stroke="#000" stroke-width="9.0" stroke-dasharray="32.2 28.9"/>
<text class="tk" x="227.0" y="1269.0" text-anchor="middle">400</text>
<text class="tk" x="433.1" y="1269.0" text-anchor="middle">600</text>
<text class="tk" x="639.2" y="1269.0" text-anchor="middle">800</text>
<text class="tk" x="845.3" y="1269.0" text-anchor="middle">1000</text>
<text class="tk" x="1051.4" y="1269.0" text-anchor="middle">1200</text>
<text class="tk" x="1257.5" y="1269.0" text-anchor="middle">1400</text>
<text class="tk" x="1463.7" y="1269.0" text-anchor="middle">1600</text>
<text class="tk" x="1669.8" y="1269.0" text-anchor="middle">1800</text>
<text class="tk" x="1875.9" y="1269.0" text-anchor="middle">2000</text>
<text class="tk" x="2082.0" y="1269.0" text-anchor="middle">2200</text>
<text class="tk" x="2288.1" y="1269.0" text-anchor="middle">2400</text>
<text class="tk" x="201" y="1200.9" text-anchor="end">0</text>
<text class="tk" x="201" y="1012.2" text-anchor="end">0.1</text>
<text class="tk" x="201" y="823.6" text-anchor="end">0.2</text>
<text class="tk" x="201" y="634.9" text-anchor="end">0.3</text>
<text class="tk" x="201" y="446.2" text-anchor="end">0.4</text>
<text class="tk" x="201" y="257.6" text-anchor="end">0.5</text>
<text class="tk" x="201" y="68.9" text-anchor="end">0.6</text>
<text class="lb" x="1256.8" y="1362.8" text-anchor="middle">Wavelength (nm)</text>
<text class="lb" style="font-size:82px" transform="translate(75 608.8) rotate(-90)" text-anchor="middle">Reflectance</text>
<line x1="1171" y1="135.3" x2="1330.2" y2="135.3" stroke="#663300" stroke-width="8.5"/>
<text class="lg" x="1342.5" y="162.3">soil1</text>
<line x1="1518.5" y1="135.3" x2="1677.7" y2="135.3" stroke="#855200" stroke-width="8.5"/>
<text class="lg" x="1690" y="162.3">soil2</text>
<line x1="1866" y1="135.3" x2="2025.2" y2="135.3" stroke="#A37000" stroke-width="8.5"/>
<text class="lg" x="2037.5" y="162.3">soil3</text>
<line x1="1171" y1="220.1" x2="1330.2" y2="220.1" stroke="#C28F00" stroke-width="8.5"/>
<text class="lg" x="1342.5" y="247.75">soil4</text>
<line x1="1518.5" y1="220.1" x2="1677.7" y2="220.1" stroke="#E0AD00" stroke-width="8.5"/>
<text class="lg" x="1690" y="247.75">soil5</text>
<line x1="1866" y1="220.1" x2="2025.2" y2="220.1" stroke="#FFCC00" stroke-width="8.5"/>
<text class="lg" x="2037.5" y="247.75">soil6</text>
</svg></body></html>
